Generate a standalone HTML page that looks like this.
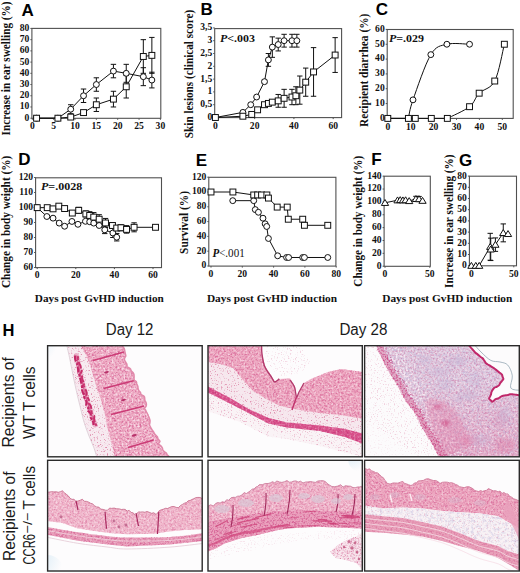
<!DOCTYPE html><html><head><meta charset="utf-8"><style>
html,body{margin:0;padding:0;background:#fff;width:520px;height:573px;overflow:hidden}
svg{display:block}
.tk{font-family:"Liberation Serif", serif;font-weight:bold;font-size:9.6px;fill:#111}
.yl{font-family:"Liberation Serif", serif;font-weight:bold;fill:#111}
.pl{font-family:"Liberation Sans", sans-serif;font-weight:bold;fill:#000}
.pv{font-family:"Liberation Serif", serif;font-weight:bold;fill:#111}
.hl{font-family:"Liberation Sans", sans-serif;fill:#1a1a1a}
</style></head><body>
<svg width="520" height="573" viewBox="0 0 520 573">
<rect width="520" height="573" fill="#fff"/>
<rect x="31.9" y="28.4" width="128.9" height="89.9" fill="none" stroke="#505050" stroke-width="1.1"/>
<line x1="30.4" y1="118.2" x2="31.9" y2="118.2" stroke="#505050" stroke-width="1"/>
<text x="29.4" y="120.6" text-anchor="end" class="tk">0</text>
<line x1="30.4" y1="106.98" x2="31.9" y2="106.98" stroke="#505050" stroke-width="1"/>
<text x="29.4" y="109.38" text-anchor="end" class="tk">10</text>
<line x1="30.4" y1="95.76" x2="31.9" y2="95.76" stroke="#505050" stroke-width="1"/>
<text x="29.4" y="98.16" text-anchor="end" class="tk">20</text>
<line x1="30.4" y1="84.54" x2="31.9" y2="84.54" stroke="#505050" stroke-width="1"/>
<text x="29.4" y="86.94" text-anchor="end" class="tk">30</text>
<line x1="30.4" y1="73.32" x2="31.9" y2="73.32" stroke="#505050" stroke-width="1"/>
<text x="29.4" y="75.72" text-anchor="end" class="tk">40</text>
<line x1="30.4" y1="62.1" x2="31.9" y2="62.1" stroke="#505050" stroke-width="1"/>
<text x="29.4" y="64.5" text-anchor="end" class="tk">50</text>
<line x1="30.4" y1="50.88" x2="31.9" y2="50.88" stroke="#505050" stroke-width="1"/>
<text x="29.4" y="53.28" text-anchor="end" class="tk">60</text>
<line x1="30.4" y1="39.66" x2="31.9" y2="39.66" stroke="#505050" stroke-width="1"/>
<text x="29.4" y="42.06" text-anchor="end" class="tk">70</text>
<line x1="30.4" y1="28.44" x2="31.9" y2="28.44" stroke="#505050" stroke-width="1"/>
<text x="29.4" y="30.84" text-anchor="end" class="tk">80</text>
<line x1="32.3" y1="118.3" x2="32.3" y2="119.8" stroke="#505050" stroke-width="1"/>
<text x="32.3" y="129.3" text-anchor="middle" class="tk">0</text>
<line x1="53.65" y1="118.3" x2="53.65" y2="119.8" stroke="#505050" stroke-width="1"/>
<text x="53.65" y="129.3" text-anchor="middle" class="tk">5</text>
<line x1="75" y1="118.3" x2="75" y2="119.8" stroke="#505050" stroke-width="1"/>
<text x="75" y="129.3" text-anchor="middle" class="tk">10</text>
<line x1="96.35" y1="118.3" x2="96.35" y2="119.8" stroke="#505050" stroke-width="1"/>
<text x="96.35" y="129.3" text-anchor="middle" class="tk">15</text>
<line x1="117.7" y1="118.3" x2="117.7" y2="119.8" stroke="#505050" stroke-width="1"/>
<text x="117.7" y="129.3" text-anchor="middle" class="tk">20</text>
<line x1="139.05" y1="118.3" x2="139.05" y2="119.8" stroke="#505050" stroke-width="1"/>
<text x="139.05" y="129.3" text-anchor="middle" class="tk">25</text>
<line x1="160.4" y1="118.3" x2="160.4" y2="119.8" stroke="#505050" stroke-width="1"/>
<text x="160.4" y="129.3" text-anchor="middle" class="tk">30</text>
<path d="M36.57,118.2 L57.92,118.2 L70.73,109.22 L83.54,95.76 L96.35,84.54 L113.43,71.08 L126.24,73.32 L143.32,76.69 L151.86,80.05" fill="none" stroke="#111" stroke-width="1"/>
<path d="M36.57,118.2 L57.92,118.2 L70.73,117.08 L83.54,112.59 L96.35,104.74 L113.43,99.13 L126.24,86.78 L143.32,56.49 L151.86,55.37" fill="none" stroke="#111" stroke-width="1"/>
<path d="M70.73,104.74 V113.71 M68.03,104.74 H73.43 M68.03,113.71 H73.43" stroke="#111" stroke-width="1" fill="none"/>
<path d="M83.54,89.03 V102.49 M80.84,89.03 H86.24 M80.84,102.49 H86.24" stroke="#111" stroke-width="1" fill="none"/>
<path d="M96.35,77.81 V91.27 M93.65,77.81 H99.05 M93.65,91.27 H99.05" stroke="#111" stroke-width="1" fill="none"/>
<path d="M113.43,64.34 V77.81 M110.73,64.34 H116.13 M110.73,77.81 H116.13" stroke="#111" stroke-width="1" fill="none"/>
<path d="M126.24,64.34 V82.3 M123.54,64.34 H128.94 M123.54,82.3 H128.94" stroke="#111" stroke-width="1" fill="none"/>
<path d="M143.32,67.71 V85.66 M140.62,67.71 H146.02 M140.62,85.66 H146.02" stroke="#111" stroke-width="1" fill="none"/>
<path d="M151.86,72.2 V87.91 M149.16,72.2 H154.56 M149.16,87.91 H154.56" stroke="#111" stroke-width="1" fill="none"/>
<path d="M70.73,114.83 V119.32 M68.03,114.83 H73.43 M68.03,119.32 H73.43" stroke="#111" stroke-width="1" fill="none"/>
<path d="M83.54,110.35 V114.83 M80.84,110.35 H86.24 M80.84,114.83 H86.24" stroke="#111" stroke-width="1" fill="none"/>
<path d="M96.35,98 V111.47 M93.65,98 H99.05 M93.65,111.47 H99.05" stroke="#111" stroke-width="1" fill="none"/>
<path d="M113.43,91.27 V106.98 M110.73,91.27 H116.13 M110.73,106.98 H116.13" stroke="#111" stroke-width="1" fill="none"/>
<path d="M126.24,75.56 V98 M123.54,75.56 H128.94 M123.54,98 H128.94" stroke="#111" stroke-width="1" fill="none"/>
<path d="M143.32,39.66 V73.32 M140.62,39.66 H146.02 M140.62,73.32 H146.02" stroke="#111" stroke-width="1" fill="none"/>
<path d="M151.86,37.42 V73.32 M149.16,37.42 H154.56 M149.16,73.32 H154.56" stroke="#111" stroke-width="1" fill="none"/>
<circle cx="36.57" cy="118.2" r="2.95" fill="#fff" stroke="#111" stroke-width="1"/>
<circle cx="57.92" cy="118.2" r="2.95" fill="#fff" stroke="#111" stroke-width="1"/>
<circle cx="70.73" cy="109.22" r="2.95" fill="#fff" stroke="#111" stroke-width="1"/>
<circle cx="83.54" cy="95.76" r="2.95" fill="#fff" stroke="#111" stroke-width="1"/>
<circle cx="96.35" cy="84.54" r="2.95" fill="#fff" stroke="#111" stroke-width="1"/>
<circle cx="113.43" cy="71.08" r="2.95" fill="#fff" stroke="#111" stroke-width="1"/>
<circle cx="126.24" cy="73.32" r="2.95" fill="#fff" stroke="#111" stroke-width="1"/>
<circle cx="143.32" cy="76.69" r="2.95" fill="#fff" stroke="#111" stroke-width="1"/>
<circle cx="151.86" cy="80.05" r="2.95" fill="#fff" stroke="#111" stroke-width="1"/>
<rect x="33.62" y="115.25" width="5.9" height="5.9" fill="#fff" stroke="#111" stroke-width="1"/>
<rect x="54.97" y="115.25" width="5.9" height="5.9" fill="#fff" stroke="#111" stroke-width="1"/>
<rect x="67.78" y="114.13" width="5.9" height="5.9" fill="#fff" stroke="#111" stroke-width="1"/>
<rect x="80.59" y="109.64" width="5.9" height="5.9" fill="#fff" stroke="#111" stroke-width="1"/>
<rect x="93.4" y="101.79" width="5.9" height="5.9" fill="#fff" stroke="#111" stroke-width="1"/>
<rect x="110.48" y="96.18" width="5.9" height="5.9" fill="#fff" stroke="#111" stroke-width="1"/>
<rect x="123.29" y="83.83" width="5.9" height="5.9" fill="#fff" stroke="#111" stroke-width="1"/>
<rect x="140.37" y="53.54" width="5.9" height="5.9" fill="#fff" stroke="#111" stroke-width="1"/>
<rect x="148.91" y="52.42" width="5.9" height="5.9" fill="#fff" stroke="#111" stroke-width="1"/>
<text x="21.5" y="15.5" class="pl" style="font-size:17px">A</text>
<text transform="translate(10,68.4) rotate(-90)" text-anchor="middle" class="yl" style="font-size:12px" textLength="134" lengthAdjust="spacingAndGlyphs">Increase in ear swelling (%)</text>
<rect x="214.7" y="28.6" width="126.9" height="89" fill="none" stroke="#505050" stroke-width="1.1"/>
<line x1="213.2" y1="117.5" x2="214.7" y2="117.5" stroke="#505050" stroke-width="1"/>
<text x="212.2" y="119.9" text-anchor="end" class="tk">0</text>
<line x1="213.2" y1="104.7" x2="214.7" y2="104.7" stroke="#505050" stroke-width="1"/>
<text x="212.2" y="107.1" text-anchor="end" class="tk">0,5</text>
<line x1="213.2" y1="91.9" x2="214.7" y2="91.9" stroke="#505050" stroke-width="1"/>
<text x="212.2" y="94.3" text-anchor="end" class="tk">1</text>
<line x1="213.2" y1="79.1" x2="214.7" y2="79.1" stroke="#505050" stroke-width="1"/>
<text x="212.2" y="81.5" text-anchor="end" class="tk">1,5</text>
<line x1="213.2" y1="66.3" x2="214.7" y2="66.3" stroke="#505050" stroke-width="1"/>
<text x="212.2" y="68.7" text-anchor="end" class="tk">2</text>
<line x1="213.2" y1="53.5" x2="214.7" y2="53.5" stroke="#505050" stroke-width="1"/>
<text x="212.2" y="55.9" text-anchor="end" class="tk">2,5</text>
<line x1="213.2" y1="40.7" x2="214.7" y2="40.7" stroke="#505050" stroke-width="1"/>
<text x="212.2" y="43.1" text-anchor="end" class="tk">3</text>
<line x1="213.2" y1="27.9" x2="214.7" y2="27.9" stroke="#505050" stroke-width="1"/>
<text x="212.2" y="30.3" text-anchor="end" class="tk">3,5</text>
<line x1="215.4" y1="117.6" x2="215.4" y2="119.1" stroke="#505050" stroke-width="1"/>
<text x="215.4" y="128.8" text-anchor="middle" class="tk">0</text>
<line x1="254.66" y1="117.6" x2="254.66" y2="119.1" stroke="#505050" stroke-width="1"/>
<text x="254.66" y="128.8" text-anchor="middle" class="tk">20</text>
<line x1="293.92" y1="117.6" x2="293.92" y2="119.1" stroke="#505050" stroke-width="1"/>
<text x="293.92" y="128.8" text-anchor="middle" class="tk">40</text>
<line x1="333.18" y1="117.6" x2="333.18" y2="119.1" stroke="#505050" stroke-width="1"/>
<text x="333.18" y="128.8" text-anchor="middle" class="tk">60</text>
<path d="M215.4,117.5 L242.88,112.38 L250.73,104.7 L256.62,97.02 L264.48,81.66 L268.4,59.9 L272.33,47.1 L278.22,44.54 L284.11,40.7 L291.96,40.7 L296.86,40.7" fill="none" stroke="#111" stroke-width="1"/>
<path d="M215.4,117.5 L242.88,116.22 L251.72,114.43 L257.6,109.82 L264.48,104.7 L268.4,103.42 L272.33,102.14 L278.22,100.86 L284.11,98.3 L291.96,97.02 L295.88,95.74 L299.81,90.11 L305.7,82.17 L313.55,71.93 L335.14,55.04" fill="none" stroke="#111" stroke-width="1"/>
<path d="M264.48,80.12 V83.2 M261.78,80.12 H267.18 M261.78,83.2 H267.18" stroke="#111" stroke-width="1" fill="none"/>
<path d="M268.4,53.5 V66.3 M265.7,53.5 H271.1 M265.7,66.3 H271.1" stroke="#111" stroke-width="1" fill="none"/>
<path d="M272.33,36.86 V57.34 M269.63,36.86 H275.03 M269.63,57.34 H275.03" stroke="#111" stroke-width="1" fill="none"/>
<path d="M278.22,38.14 V50.94 M275.52,38.14 H280.92 M275.52,50.94 H280.92" stroke="#111" stroke-width="1" fill="none"/>
<path d="M284.11,34.3 V47.1 M281.41,34.3 H286.81 M281.41,47.1 H286.81" stroke="#111" stroke-width="1" fill="none"/>
<path d="M291.96,34.3 V47.1 M289.26,34.3 H294.66 M289.26,47.1 H294.66" stroke="#111" stroke-width="1" fill="none"/>
<path d="M296.86,34.3 V47.1 M294.16,34.3 H299.56 M294.16,47.1 H299.56" stroke="#111" stroke-width="1" fill="none"/>
<path d="M278.22,94.46 V107.26 M275.52,94.46 H280.92 M275.52,107.26 H280.92" stroke="#111" stroke-width="1" fill="none"/>
<path d="M284.11,89.34 V107.26 M281.41,89.34 H286.81 M281.41,107.26 H286.81" stroke="#111" stroke-width="1" fill="none"/>
<path d="M291.96,89.34 V104.7 M289.26,89.34 H294.66 M289.26,104.7 H294.66" stroke="#111" stroke-width="1" fill="none"/>
<path d="M295.88,86.78 V104.7 M293.18,86.78 H298.58 M293.18,104.7 H298.58" stroke="#111" stroke-width="1" fill="none"/>
<path d="M299.81,76.03 V104.19 M297.11,76.03 H302.51 M297.11,104.19 H302.51" stroke="#111" stroke-width="1" fill="none"/>
<path d="M305.7,68.09 V96.25 M303,68.09 H308.4 M303,96.25 H308.4" stroke="#111" stroke-width="1" fill="none"/>
<path d="M313.55,47.61 V96.25 M310.85,47.61 H316.25 M310.85,96.25 H316.25" stroke="#111" stroke-width="1" fill="none"/>
<path d="M335.14,37.63 V72.44 M332.44,37.63 H337.84 M332.44,72.44 H337.84" stroke="#111" stroke-width="1" fill="none"/>
<circle cx="215.4" cy="117.5" r="2.95" fill="#fff" stroke="#111" stroke-width="1"/>
<circle cx="242.88" cy="112.38" r="2.95" fill="#fff" stroke="#111" stroke-width="1"/>
<circle cx="250.73" cy="104.7" r="2.95" fill="#fff" stroke="#111" stroke-width="1"/>
<circle cx="256.62" cy="97.02" r="2.95" fill="#fff" stroke="#111" stroke-width="1"/>
<circle cx="264.48" cy="81.66" r="2.95" fill="#fff" stroke="#111" stroke-width="1"/>
<circle cx="268.4" cy="59.9" r="2.95" fill="#fff" stroke="#111" stroke-width="1"/>
<circle cx="272.33" cy="47.1" r="2.95" fill="#fff" stroke="#111" stroke-width="1"/>
<circle cx="278.22" cy="44.54" r="2.95" fill="#fff" stroke="#111" stroke-width="1"/>
<circle cx="284.11" cy="40.7" r="2.95" fill="#fff" stroke="#111" stroke-width="1"/>
<circle cx="291.96" cy="40.7" r="2.95" fill="#fff" stroke="#111" stroke-width="1"/>
<circle cx="296.86" cy="40.7" r="2.95" fill="#fff" stroke="#111" stroke-width="1"/>
<rect x="212.45" y="114.55" width="5.9" height="5.9" fill="#fff" stroke="#111" stroke-width="1"/>
<rect x="239.93" y="113.27" width="5.9" height="5.9" fill="#fff" stroke="#111" stroke-width="1"/>
<rect x="248.77" y="111.48" width="5.9" height="5.9" fill="#fff" stroke="#111" stroke-width="1"/>
<rect x="254.65" y="106.87" width="5.9" height="5.9" fill="#fff" stroke="#111" stroke-width="1"/>
<rect x="261.53" y="101.75" width="5.9" height="5.9" fill="#fff" stroke="#111" stroke-width="1"/>
<rect x="265.45" y="100.47" width="5.9" height="5.9" fill="#fff" stroke="#111" stroke-width="1"/>
<rect x="269.38" y="99.19" width="5.9" height="5.9" fill="#fff" stroke="#111" stroke-width="1"/>
<rect x="275.27" y="97.91" width="5.9" height="5.9" fill="#fff" stroke="#111" stroke-width="1"/>
<rect x="281.16" y="95.35" width="5.9" height="5.9" fill="#fff" stroke="#111" stroke-width="1"/>
<rect x="289.01" y="94.07" width="5.9" height="5.9" fill="#fff" stroke="#111" stroke-width="1"/>
<rect x="292.93" y="92.79" width="5.9" height="5.9" fill="#fff" stroke="#111" stroke-width="1"/>
<rect x="296.86" y="87.16" width="5.9" height="5.9" fill="#fff" stroke="#111" stroke-width="1"/>
<rect x="302.75" y="79.22" width="5.9" height="5.9" fill="#fff" stroke="#111" stroke-width="1"/>
<rect x="310.6" y="68.98" width="5.9" height="5.9" fill="#fff" stroke="#111" stroke-width="1"/>
<rect x="332.19" y="52.09" width="5.9" height="5.9" fill="#fff" stroke="#111" stroke-width="1"/>
<text x="200.5" y="15.2" class="pl" style="font-size:17px">B</text>
<text transform="translate(193,74) rotate(-90)" text-anchor="middle" class="yl" style="font-size:12px" textLength="128.3" lengthAdjust="spacingAndGlyphs">Skin lesions (clinical score)</text>
<text x="220" y="41.5" class="pv" style="font-size:10.8px" textLength="35" lengthAdjust="spacingAndGlyphs"><tspan font-style="italic">P</tspan>&lt;.003</text>
<rect x="387.2" y="29.5" width="126" height="88.9" fill="none" stroke="#505050" stroke-width="1.1"/>
<line x1="385.7" y1="118.4" x2="387.2" y2="118.4" stroke="#505050" stroke-width="1"/>
<text x="384.7" y="120.8" text-anchor="end" class="tk">0</text>
<line x1="385.7" y1="103.57" x2="387.2" y2="103.57" stroke="#505050" stroke-width="1"/>
<text x="384.7" y="105.97" text-anchor="end" class="tk">10</text>
<line x1="385.7" y1="88.74" x2="387.2" y2="88.74" stroke="#505050" stroke-width="1"/>
<text x="384.7" y="91.14" text-anchor="end" class="tk">20</text>
<line x1="385.7" y1="73.91" x2="387.2" y2="73.91" stroke="#505050" stroke-width="1"/>
<text x="384.7" y="76.31" text-anchor="end" class="tk">30</text>
<line x1="385.7" y1="59.08" x2="387.2" y2="59.08" stroke="#505050" stroke-width="1"/>
<text x="384.7" y="61.48" text-anchor="end" class="tk">40</text>
<line x1="385.7" y1="44.25" x2="387.2" y2="44.25" stroke="#505050" stroke-width="1"/>
<text x="384.7" y="46.65" text-anchor="end" class="tk">50</text>
<line x1="385.7" y1="29.42" x2="387.2" y2="29.42" stroke="#505050" stroke-width="1"/>
<text x="384.7" y="31.82" text-anchor="end" class="tk">60</text>
<line x1="387.8" y1="118.4" x2="387.8" y2="119.9" stroke="#505050" stroke-width="1"/>
<text x="387.8" y="129.5" text-anchor="middle" class="tk">0</text>
<line x1="410.7" y1="118.4" x2="410.7" y2="119.9" stroke="#505050" stroke-width="1"/>
<text x="410.7" y="129.5" text-anchor="middle" class="tk">10</text>
<line x1="433.6" y1="118.4" x2="433.6" y2="119.9" stroke="#505050" stroke-width="1"/>
<text x="433.6" y="129.5" text-anchor="middle" class="tk">20</text>
<line x1="456.5" y1="118.4" x2="456.5" y2="119.9" stroke="#505050" stroke-width="1"/>
<text x="456.5" y="129.5" text-anchor="middle" class="tk">30</text>
<line x1="479.4" y1="118.4" x2="479.4" y2="119.9" stroke="#505050" stroke-width="1"/>
<text x="479.4" y="129.5" text-anchor="middle" class="tk">40</text>
<line x1="502.3" y1="118.4" x2="502.3" y2="119.9" stroke="#505050" stroke-width="1"/>
<text x="502.3" y="129.5" text-anchor="middle" class="tk">50</text>
<path d="M387.8,118.4 L408.41,118.4" fill="none" stroke="#111" stroke-width="1"/>
<path d="M408.41,118.4 C409.17,115.31 409.25,110.49 412.99,99.86 C416.73,89.23 425.2,63.9 430.85,54.63 C436.5,45.36 440.43,45.98 446.88,44.25 C453.33,42.52 465.77,44.25 469.55,44.25" fill="none" stroke="#111" stroke-width="1"/>
<path d="M387.8,118.4 L447.34,118.4" fill="none" stroke="#111" stroke-width="1"/>
<path d="M447.34,118.4 C451.04,116.45 464.25,110.89 469.55,106.68 C474.86,102.48 474.97,97.46 479.17,93.19 C483.37,88.91 490.54,89.18 494.74,81.03 C498.94,72.87 502.76,50.38 504.36,44.25" fill="none" stroke="#111" stroke-width="1"/>
<circle cx="387.8" cy="118.4" r="2.95" fill="#fff" stroke="#111" stroke-width="1"/>
<circle cx="408.41" cy="118.4" r="2.95" fill="#fff" stroke="#111" stroke-width="1"/>
<circle cx="412.99" cy="99.86" r="2.95" fill="#fff" stroke="#111" stroke-width="1"/>
<circle cx="430.85" cy="54.63" r="2.95" fill="#fff" stroke="#111" stroke-width="1"/>
<circle cx="446.88" cy="44.25" r="2.95" fill="#fff" stroke="#111" stroke-width="1"/>
<circle cx="469.55" cy="44.25" r="2.95" fill="#fff" stroke="#111" stroke-width="1"/>
<rect x="384.85" y="115.45" width="5.9" height="5.9" fill="#fff" stroke="#111" stroke-width="1"/>
<rect x="405.46" y="115.45" width="5.9" height="5.9" fill="#fff" stroke="#111" stroke-width="1"/>
<rect x="412.33" y="115.45" width="5.9" height="5.9" fill="#fff" stroke="#111" stroke-width="1"/>
<rect x="428.36" y="115.45" width="5.9" height="5.9" fill="#fff" stroke="#111" stroke-width="1"/>
<rect x="444.39" y="115.45" width="5.9" height="5.9" fill="#fff" stroke="#111" stroke-width="1"/>
<rect x="466.6" y="103.73" width="5.9" height="5.9" fill="#fff" stroke="#111" stroke-width="1"/>
<rect x="476.22" y="90.24" width="5.9" height="5.9" fill="#fff" stroke="#111" stroke-width="1"/>
<rect x="491.79" y="78.08" width="5.9" height="5.9" fill="#fff" stroke="#111" stroke-width="1"/>
<rect x="501.41" y="41.3" width="5.9" height="5.9" fill="#fff" stroke="#111" stroke-width="1"/>
<text x="375.8" y="15.2" class="pl" style="font-size:17px">C</text>
<text transform="translate(368,70.3) rotate(-90)" text-anchor="middle" class="yl" style="font-size:12px" textLength="113.4" lengthAdjust="spacingAndGlyphs">Recipient diarrhea (%)</text>
<text x="389" y="41.5" class="pv" style="font-size:10.8px" textLength="35" lengthAdjust="spacingAndGlyphs"><tspan font-style="italic">P</tspan>=.029</text>
<rect x="35.6" y="177.8" width="125.9" height="89.8" fill="none" stroke="#505050" stroke-width="1.1"/>
<line x1="34.1" y1="267.5" x2="35.6" y2="267.5" stroke="#505050" stroke-width="1"/>
<text x="33.1" y="269.9" text-anchor="end" class="tk">60</text>
<line x1="34.1" y1="252.5" x2="35.6" y2="252.5" stroke="#505050" stroke-width="1"/>
<text x="33.1" y="254.9" text-anchor="end" class="tk">70</text>
<line x1="34.1" y1="237.5" x2="35.6" y2="237.5" stroke="#505050" stroke-width="1"/>
<text x="33.1" y="239.9" text-anchor="end" class="tk">80</text>
<line x1="34.1" y1="222.5" x2="35.6" y2="222.5" stroke="#505050" stroke-width="1"/>
<text x="33.1" y="224.9" text-anchor="end" class="tk">90</text>
<line x1="34.1" y1="207.5" x2="35.6" y2="207.5" stroke="#505050" stroke-width="1"/>
<text x="33.1" y="209.9" text-anchor="end" class="tk">100</text>
<line x1="34.1" y1="192.5" x2="35.6" y2="192.5" stroke="#505050" stroke-width="1"/>
<text x="33.1" y="194.9" text-anchor="end" class="tk">110</text>
<line x1="34.1" y1="177.5" x2="35.6" y2="177.5" stroke="#505050" stroke-width="1"/>
<text x="33.1" y="179.9" text-anchor="end" class="tk">120</text>
<line x1="37.2" y1="267.6" x2="37.2" y2="269.1" stroke="#505050" stroke-width="1"/>
<text x="37.2" y="278.3" text-anchor="middle" class="tk">0</text>
<line x1="75.8" y1="267.6" x2="75.8" y2="269.1" stroke="#505050" stroke-width="1"/>
<text x="75.8" y="278.3" text-anchor="middle" class="tk">20</text>
<line x1="114.4" y1="267.6" x2="114.4" y2="269.1" stroke="#505050" stroke-width="1"/>
<text x="114.4" y="278.3" text-anchor="middle" class="tk">40</text>
<line x1="153" y1="267.6" x2="153" y2="269.1" stroke="#505050" stroke-width="1"/>
<text x="153" y="278.3" text-anchor="middle" class="tk">60</text>
<path d="M37.2,207.5 L46.85,216.5 L53.03,218.15 L59.2,223.1 L64.61,226.25 L71.94,221.45 L77.92,224.3 L85.45,221.3 L89.7,221.75 L93.75,223.1 L99.15,225.5 L104.75,229.85 L112.86,233 L116.72,237.2" fill="none" stroke="#111" stroke-width="1"/>
<path d="M37.2,207.65 L47.24,207.65 L53.03,208.85 L58.82,206.15 L64.61,208.55 L72.33,213.05 L78.69,210.35 L85.84,213.95 L89.7,215.45 L93.75,217.1 L99.15,219.2 L105.52,222.95 L112.47,225.5 L116.72,228.05 L120.96,227.75 L126.56,229.4 L134.09,227.3 L155.51,227.3" fill="none" stroke="#111" stroke-width="1"/>
<path d="M104.75,226.1 V233.6 M102.05,226.1 H107.45 M102.05,233.6 H107.45" stroke="#111" stroke-width="1" fill="none"/>
<path d="M112.86,228.5 V237.5 M110.16,228.5 H115.56 M110.16,237.5 H115.56" stroke="#111" stroke-width="1" fill="none"/>
<path d="M116.72,233.45 V240.95 M114.02,233.45 H119.42 M114.02,240.95 H119.42" stroke="#111" stroke-width="1" fill="none"/>
<path d="M78.69,207.35 V213.35 M75.99,207.35 H81.39 M75.99,213.35 H81.39" stroke="#111" stroke-width="1" fill="none"/>
<path d="M85.84,210.95 V216.95 M83.14,210.95 H88.54 M83.14,216.95 H88.54" stroke="#111" stroke-width="1" fill="none"/>
<path d="M89.7,211.7 V219.2 M87,211.7 H92.4 M87,219.2 H92.4" stroke="#111" stroke-width="1" fill="none"/>
<path d="M93.75,212.6 V221.6 M91.05,212.6 H96.45 M91.05,221.6 H96.45" stroke="#111" stroke-width="1" fill="none"/>
<path d="M99.15,214.7 V223.7 M96.45,214.7 H101.85 M96.45,223.7 H101.85" stroke="#111" stroke-width="1" fill="none"/>
<path d="M105.52,218.45 V227.45 M102.82,218.45 H108.22 M102.82,227.45 H108.22" stroke="#111" stroke-width="1" fill="none"/>
<path d="M112.47,222.5 V228.5 M109.77,222.5 H115.17 M109.77,228.5 H115.17" stroke="#111" stroke-width="1" fill="none"/>
<path d="M120.96,224.75 V230.75 M118.26,224.75 H123.66 M118.26,230.75 H123.66" stroke="#111" stroke-width="1" fill="none"/>
<path d="M126.56,225.65 V233.15 M123.86,225.65 H129.26 M123.86,233.15 H129.26" stroke="#111" stroke-width="1" fill="none"/>
<path d="M134.09,222.8 V231.8 M131.39,222.8 H136.79 M131.39,231.8 H136.79" stroke="#111" stroke-width="1" fill="none"/>
<circle cx="37.2" cy="207.5" r="2.95" fill="#fff" stroke="#111" stroke-width="1"/>
<circle cx="46.85" cy="216.5" r="2.95" fill="#fff" stroke="#111" stroke-width="1"/>
<circle cx="53.03" cy="218.15" r="2.95" fill="#fff" stroke="#111" stroke-width="1"/>
<circle cx="59.2" cy="223.1" r="2.95" fill="#fff" stroke="#111" stroke-width="1"/>
<circle cx="64.61" cy="226.25" r="2.95" fill="#fff" stroke="#111" stroke-width="1"/>
<circle cx="71.94" cy="221.45" r="2.95" fill="#fff" stroke="#111" stroke-width="1"/>
<circle cx="77.92" cy="224.3" r="2.95" fill="#fff" stroke="#111" stroke-width="1"/>
<circle cx="85.45" cy="221.3" r="2.95" fill="#fff" stroke="#111" stroke-width="1"/>
<circle cx="89.7" cy="221.75" r="2.95" fill="#fff" stroke="#111" stroke-width="1"/>
<circle cx="93.75" cy="223.1" r="2.95" fill="#fff" stroke="#111" stroke-width="1"/>
<circle cx="99.15" cy="225.5" r="2.95" fill="#fff" stroke="#111" stroke-width="1"/>
<circle cx="104.75" cy="229.85" r="2.95" fill="#fff" stroke="#111" stroke-width="1"/>
<circle cx="112.86" cy="233" r="2.95" fill="#fff" stroke="#111" stroke-width="1"/>
<circle cx="116.72" cy="237.2" r="2.95" fill="#fff" stroke="#111" stroke-width="1"/>
<rect x="34.25" y="204.7" width="5.9" height="5.9" fill="#fff" stroke="#111" stroke-width="1"/>
<rect x="44.29" y="204.7" width="5.9" height="5.9" fill="#fff" stroke="#111" stroke-width="1"/>
<rect x="50.08" y="205.9" width="5.9" height="5.9" fill="#fff" stroke="#111" stroke-width="1"/>
<rect x="55.87" y="203.2" width="5.9" height="5.9" fill="#fff" stroke="#111" stroke-width="1"/>
<rect x="61.66" y="205.6" width="5.9" height="5.9" fill="#fff" stroke="#111" stroke-width="1"/>
<rect x="69.38" y="210.1" width="5.9" height="5.9" fill="#fff" stroke="#111" stroke-width="1"/>
<rect x="75.74" y="207.4" width="5.9" height="5.9" fill="#fff" stroke="#111" stroke-width="1"/>
<rect x="82.89" y="211" width="5.9" height="5.9" fill="#fff" stroke="#111" stroke-width="1"/>
<rect x="86.75" y="212.5" width="5.9" height="5.9" fill="#fff" stroke="#111" stroke-width="1"/>
<rect x="90.8" y="214.15" width="5.9" height="5.9" fill="#fff" stroke="#111" stroke-width="1"/>
<rect x="96.2" y="216.25" width="5.9" height="5.9" fill="#fff" stroke="#111" stroke-width="1"/>
<rect x="102.57" y="220" width="5.9" height="5.9" fill="#fff" stroke="#111" stroke-width="1"/>
<rect x="109.52" y="222.55" width="5.9" height="5.9" fill="#fff" stroke="#111" stroke-width="1"/>
<rect x="113.77" y="225.1" width="5.9" height="5.9" fill="#fff" stroke="#111" stroke-width="1"/>
<rect x="118.01" y="224.8" width="5.9" height="5.9" fill="#fff" stroke="#111" stroke-width="1"/>
<rect x="123.61" y="226.45" width="5.9" height="5.9" fill="#fff" stroke="#111" stroke-width="1"/>
<rect x="131.14" y="224.35" width="5.9" height="5.9" fill="#fff" stroke="#111" stroke-width="1"/>
<rect x="152.56" y="224.35" width="5.9" height="5.9" fill="#fff" stroke="#111" stroke-width="1"/>
<text x="18.2" y="164.8" class="pl" style="font-size:17px">D</text>
<text transform="translate(10,221.9) rotate(-90)" text-anchor="middle" class="yl" style="font-size:12px" textLength="132.3" lengthAdjust="spacingAndGlyphs">Change in body weight (%)</text>
<text x="41" y="189.8" class="pv" style="font-size:10.8px" textLength="41.3" lengthAdjust="spacingAndGlyphs"><tspan font-style="italic">P</tspan>=.0028</text>
<rect x="208.8" y="177.3" width="127.1" height="88.8" fill="none" stroke="#505050" stroke-width="1.1"/>
<line x1="207.3" y1="266" x2="208.8" y2="266" stroke="#505050" stroke-width="1"/>
<text x="206.3" y="268.4" text-anchor="end" class="tk">0</text>
<line x1="207.3" y1="251.2" x2="208.8" y2="251.2" stroke="#505050" stroke-width="1"/>
<text x="206.3" y="253.6" text-anchor="end" class="tk">20</text>
<line x1="207.3" y1="236.4" x2="208.8" y2="236.4" stroke="#505050" stroke-width="1"/>
<text x="206.3" y="238.8" text-anchor="end" class="tk">40</text>
<line x1="207.3" y1="221.6" x2="208.8" y2="221.6" stroke="#505050" stroke-width="1"/>
<text x="206.3" y="224" text-anchor="end" class="tk">60</text>
<line x1="207.3" y1="206.8" x2="208.8" y2="206.8" stroke="#505050" stroke-width="1"/>
<text x="206.3" y="209.2" text-anchor="end" class="tk">80</text>
<line x1="207.3" y1="192" x2="208.8" y2="192" stroke="#505050" stroke-width="1"/>
<text x="206.3" y="194.4" text-anchor="end" class="tk">100</text>
<line x1="207.3" y1="177.2" x2="208.8" y2="177.2" stroke="#505050" stroke-width="1"/>
<text x="206.3" y="179.6" text-anchor="end" class="tk">120</text>
<line x1="211" y1="266.1" x2="211" y2="267.6" stroke="#505050" stroke-width="1"/>
<text x="211" y="277" text-anchor="middle" class="tk">0</text>
<line x1="242.3" y1="266.1" x2="242.3" y2="267.6" stroke="#505050" stroke-width="1"/>
<text x="242.3" y="277" text-anchor="middle" class="tk">20</text>
<line x1="273.6" y1="266.1" x2="273.6" y2="267.6" stroke="#505050" stroke-width="1"/>
<text x="273.6" y="277" text-anchor="middle" class="tk">40</text>
<line x1="304.9" y1="266.1" x2="304.9" y2="267.6" stroke="#505050" stroke-width="1"/>
<text x="304.9" y="277" text-anchor="middle" class="tk">60</text>
<line x1="336.2" y1="266.1" x2="336.2" y2="267.6" stroke="#505050" stroke-width="1"/>
<text x="336.2" y="277" text-anchor="middle" class="tk">80</text>
<path d="M211,192 L232.91,192 L253.72,194.96 L257.64,194.96 L261.55,194.96 L266.87,194.96 L268.44,198.07 L277.2,207.1 L287.22,207.1 L288.31,219.23 L302.71,219.23 L304.43,225.3 L327.75,225.3" fill="none" stroke="#111" stroke-width="1"/>
<path d="M232.75,200.66 L253.72,200.66 L255.29,209.61 L258.42,212.28 L262.96,218.2 L265.15,223.82 L266.71,226.48 L268.44,238.47 L277.67,255.79 L286.59,257.49 L288.62,257.49 L302.71,257.49 L304.43,257.49 L327.75,257.49" fill="none" stroke="#111" stroke-width="1"/>
<circle cx="232.75" cy="200.66" r="2.95" fill="#fff" stroke="#111" stroke-width="1"/>
<circle cx="253.72" cy="200.66" r="2.95" fill="#fff" stroke="#111" stroke-width="1"/>
<circle cx="255.29" cy="209.61" r="2.95" fill="#fff" stroke="#111" stroke-width="1"/>
<circle cx="258.42" cy="212.28" r="2.95" fill="#fff" stroke="#111" stroke-width="1"/>
<circle cx="262.96" cy="218.2" r="2.95" fill="#fff" stroke="#111" stroke-width="1"/>
<circle cx="265.15" cy="223.82" r="2.95" fill="#fff" stroke="#111" stroke-width="1"/>
<circle cx="266.71" cy="226.48" r="2.95" fill="#fff" stroke="#111" stroke-width="1"/>
<circle cx="268.44" cy="238.47" r="2.95" fill="#fff" stroke="#111" stroke-width="1"/>
<circle cx="277.67" cy="255.79" r="2.95" fill="#fff" stroke="#111" stroke-width="1"/>
<circle cx="286.59" cy="257.49" r="2.95" fill="#fff" stroke="#111" stroke-width="1"/>
<circle cx="288.62" cy="257.49" r="2.95" fill="#fff" stroke="#111" stroke-width="1"/>
<circle cx="302.71" cy="257.49" r="2.95" fill="#fff" stroke="#111" stroke-width="1"/>
<circle cx="304.43" cy="257.49" r="2.95" fill="#fff" stroke="#111" stroke-width="1"/>
<circle cx="327.75" cy="257.49" r="2.95" fill="#fff" stroke="#111" stroke-width="1"/>
<rect x="208.05" y="189.05" width="5.9" height="5.9" fill="#fff" stroke="#111" stroke-width="1"/>
<rect x="229.96" y="189.05" width="5.9" height="5.9" fill="#fff" stroke="#111" stroke-width="1"/>
<rect x="250.77" y="192.01" width="5.9" height="5.9" fill="#fff" stroke="#111" stroke-width="1"/>
<rect x="254.69" y="192.01" width="5.9" height="5.9" fill="#fff" stroke="#111" stroke-width="1"/>
<rect x="258.6" y="192.01" width="5.9" height="5.9" fill="#fff" stroke="#111" stroke-width="1"/>
<rect x="263.92" y="192.01" width="5.9" height="5.9" fill="#fff" stroke="#111" stroke-width="1"/>
<rect x="265.49" y="195.12" width="5.9" height="5.9" fill="#fff" stroke="#111" stroke-width="1"/>
<rect x="274.25" y="204.15" width="5.9" height="5.9" fill="#fff" stroke="#111" stroke-width="1"/>
<rect x="284.27" y="204.15" width="5.9" height="5.9" fill="#fff" stroke="#111" stroke-width="1"/>
<rect x="285.36" y="216.28" width="5.9" height="5.9" fill="#fff" stroke="#111" stroke-width="1"/>
<rect x="299.76" y="216.28" width="5.9" height="5.9" fill="#fff" stroke="#111" stroke-width="1"/>
<rect x="301.48" y="222.35" width="5.9" height="5.9" fill="#fff" stroke="#111" stroke-width="1"/>
<rect x="324.8" y="222.35" width="5.9" height="5.9" fill="#fff" stroke="#111" stroke-width="1"/>
<text x="195.8" y="165.6" class="pl" style="font-size:17px">E</text>
<text transform="translate(188,222.5) rotate(-90)" text-anchor="middle" class="yl" style="font-size:12px" textLength="62.9" lengthAdjust="spacingAndGlyphs">Survival (%)</text>
<text x="212.4" y="257" style="font-size:11.5px;fill:#111;font-family:"Liberation Serif", serif" textLength="32.3" lengthAdjust="spacingAndGlyphs"><tspan font-weight="bold" font-style="italic">P</tspan>&lt;.001</text>
<rect x="384.1" y="176.2" width="46.2" height="90.1" fill="none" stroke="#505050" stroke-width="1.1"/>
<line x1="382.6" y1="266.2" x2="384.1" y2="266.2" stroke="#505050" stroke-width="1"/>
<text x="381.6" y="268.6" text-anchor="end" class="tk">0</text>
<line x1="382.6" y1="253.34" x2="384.1" y2="253.34" stroke="#505050" stroke-width="1"/>
<text x="381.6" y="255.74" text-anchor="end" class="tk">20</text>
<line x1="382.6" y1="240.48" x2="384.1" y2="240.48" stroke="#505050" stroke-width="1"/>
<text x="381.6" y="242.88" text-anchor="end" class="tk">40</text>
<line x1="382.6" y1="227.62" x2="384.1" y2="227.62" stroke="#505050" stroke-width="1"/>
<text x="381.6" y="230.02" text-anchor="end" class="tk">60</text>
<line x1="382.6" y1="214.76" x2="384.1" y2="214.76" stroke="#505050" stroke-width="1"/>
<text x="381.6" y="217.16" text-anchor="end" class="tk">80</text>
<line x1="382.6" y1="201.9" x2="384.1" y2="201.9" stroke="#505050" stroke-width="1"/>
<text x="381.6" y="204.3" text-anchor="end" class="tk">100</text>
<line x1="382.6" y1="189.04" x2="384.1" y2="189.04" stroke="#505050" stroke-width="1"/>
<text x="381.6" y="191.44" text-anchor="end" class="tk">120</text>
<line x1="382.6" y1="176.18" x2="384.1" y2="176.18" stroke="#505050" stroke-width="1"/>
<text x="381.6" y="178.58" text-anchor="end" class="tk">140</text>
<line x1="385" y1="266.3" x2="385" y2="267.8" stroke="#505050" stroke-width="1"/>
<text x="385" y="277" text-anchor="middle" class="tk">0</text>
<line x1="429.8" y1="266.3" x2="429.8" y2="267.8" stroke="#505050" stroke-width="1"/>
<text x="429.8" y="277" text-anchor="middle" class="tk">50</text>
<path d="M385,202.8 L397.54,200.23 L400.23,199.97 L402.92,200.23 L405.61,200.1 L409.19,200.94 L415.91,198.88 L419.05,199.01 L422.54,200.68" fill="none" stroke="#111" stroke-width="1"/>
<path d="M415.91,196.31 V201.45 M413.21,196.31 H418.61 M413.21,201.45 H418.61" stroke="#111" stroke-width="1" fill="none"/>
<path d="M419.05,196.43 V201.58 M416.35,196.43 H421.75 M416.35,201.58 H421.75" stroke="#111" stroke-width="1" fill="none"/>
<path d="M385,199.5 L388.63,205.44 L381.37,205.44 Z" fill="#fff" stroke="#111" stroke-width="1"/>
<path d="M397.54,196.93 L401.17,202.87 L393.91,202.87 Z" fill="#fff" stroke="#111" stroke-width="1"/>
<path d="M400.23,196.67 L403.86,202.61 L396.6,202.61 Z" fill="#fff" stroke="#111" stroke-width="1"/>
<path d="M402.92,196.93 L406.55,202.87 L399.29,202.87 Z" fill="#fff" stroke="#111" stroke-width="1"/>
<path d="M405.61,196.8 L409.24,202.74 L401.98,202.74 Z" fill="#fff" stroke="#111" stroke-width="1"/>
<path d="M409.19,197.64 L412.82,203.58 L405.56,203.58 Z" fill="#fff" stroke="#111" stroke-width="1"/>
<path d="M415.91,195.58 L419.54,201.52 L412.28,201.52 Z" fill="#fff" stroke="#111" stroke-width="1"/>
<path d="M419.05,195.71 L422.68,201.65 L415.42,201.65 Z" fill="#fff" stroke="#111" stroke-width="1"/>
<path d="M422.54,197.38 L426.17,203.32 L418.91,203.32 Z" fill="#fff" stroke="#111" stroke-width="1"/>
<text x="371.2" y="164.8" class="pl" style="font-size:17px">F</text>
<text transform="translate(361.5,221.2) rotate(-90)" text-anchor="middle" class="yl" style="font-size:12px" textLength="130.9" lengthAdjust="spacingAndGlyphs">Change in body weight (%)</text>
<rect x="469.4" y="176.2" width="47.1" height="89.6" fill="none" stroke="#505050" stroke-width="1.1"/>
<line x1="467.9" y1="265.7" x2="469.4" y2="265.7" stroke="#505050" stroke-width="1"/>
<text x="466.9" y="268.1" text-anchor="end" class="tk">0</text>
<line x1="467.9" y1="254.5" x2="469.4" y2="254.5" stroke="#505050" stroke-width="1"/>
<text x="466.9" y="256.9" text-anchor="end" class="tk">10</text>
<line x1="467.9" y1="243.3" x2="469.4" y2="243.3" stroke="#505050" stroke-width="1"/>
<text x="466.9" y="245.7" text-anchor="end" class="tk">20</text>
<line x1="467.9" y1="232.1" x2="469.4" y2="232.1" stroke="#505050" stroke-width="1"/>
<text x="466.9" y="234.5" text-anchor="end" class="tk">30</text>
<line x1="467.9" y1="220.9" x2="469.4" y2="220.9" stroke="#505050" stroke-width="1"/>
<text x="466.9" y="223.3" text-anchor="end" class="tk">40</text>
<line x1="467.9" y1="209.7" x2="469.4" y2="209.7" stroke="#505050" stroke-width="1"/>
<text x="466.9" y="212.1" text-anchor="end" class="tk">50</text>
<line x1="467.9" y1="198.5" x2="469.4" y2="198.5" stroke="#505050" stroke-width="1"/>
<text x="466.9" y="200.9" text-anchor="end" class="tk">60</text>
<line x1="467.9" y1="187.3" x2="469.4" y2="187.3" stroke="#505050" stroke-width="1"/>
<text x="466.9" y="189.7" text-anchor="end" class="tk">70</text>
<line x1="467.9" y1="176.1" x2="469.4" y2="176.1" stroke="#505050" stroke-width="1"/>
<text x="466.9" y="178.5" text-anchor="end" class="tk">80</text>
<line x1="471.4" y1="265.8" x2="471.4" y2="267.3" stroke="#505050" stroke-width="1"/>
<text x="471.4" y="277" text-anchor="middle" class="tk">0</text>
<line x1="513.8" y1="265.8" x2="513.8" y2="267.3" stroke="#505050" stroke-width="1"/>
<text x="513.8" y="277" text-anchor="middle" class="tk">50</text>
<path d="M471.4,265.7 L475.81,265.7 L479.2,265.7 L490.23,246.77 L490.73,249.35 L495.4,244.64 L503.28,232.88 L508.03,233.89" fill="none" stroke="#111" stroke-width="1"/>
<path d="M490.23,233.33 V260.21 M487.53,233.33 H492.93 M487.53,260.21 H492.93" stroke="#111" stroke-width="1" fill="none"/>
<path d="M490.73,238.15 V260.55 M488.03,238.15 H493.43 M488.03,260.55 H493.43" stroke="#111" stroke-width="1" fill="none"/>
<path d="M495.4,237.92 V251.36 M492.7,237.92 H498.1 M492.7,251.36 H498.1" stroke="#111" stroke-width="1" fill="none"/>
<path d="M503.28,223.92 V241.84 M500.58,223.92 H505.98 M500.58,241.84 H505.98" stroke="#111" stroke-width="1" fill="none"/>
<path d="M471.4,262.4 L475.03,268.34 L467.77,268.34 Z" fill="#fff" stroke="#111" stroke-width="1"/>
<path d="M475.81,262.4 L479.44,268.34 L472.18,268.34 Z" fill="#fff" stroke="#111" stroke-width="1"/>
<path d="M479.2,262.4 L482.83,268.34 L475.57,268.34 Z" fill="#fff" stroke="#111" stroke-width="1"/>
<path d="M490.23,243.47 L493.86,249.41 L486.6,249.41 Z" fill="#fff" stroke="#111" stroke-width="1"/>
<path d="M490.73,246.05 L494.36,251.99 L487.1,251.99 Z" fill="#fff" stroke="#111" stroke-width="1"/>
<path d="M495.4,241.34 L499.03,247.28 L491.77,247.28 Z" fill="#fff" stroke="#111" stroke-width="1"/>
<path d="M503.28,229.58 L506.91,235.52 L499.65,235.52 Z" fill="#fff" stroke="#111" stroke-width="1"/>
<path d="M508.03,230.59 L511.66,236.53 L504.4,236.53 Z" fill="#fff" stroke="#111" stroke-width="1"/>
<text x="459" y="165.6" class="pl" style="font-size:17px">G</text>
<text transform="translate(452.5,221.2) rotate(-90)" text-anchor="middle" class="yl" style="font-size:12px" textLength="133.5" lengthAdjust="spacingAndGlyphs">Increase in ear swelling (%)</text>
<text x="34.8" y="302" class="yl" style="font-size:11.2px" textLength="129" lengthAdjust="spacingAndGlyphs">Days post GvHD induction</text>
<text x="206.9" y="302" class="yl" style="font-size:11.2px" textLength="130.2" lengthAdjust="spacingAndGlyphs">Days post GvHD induction</text>
<text x="382.2" y="302" class="yl" style="font-size:11.2px" textLength="130.1" lengthAdjust="spacingAndGlyphs">Days post GvHD induction</text>
<text x="2.6" y="335.6" class="pl" style="font-size:16.5px">H</text>
<text x="105.8" y="334.6" class="hl" style="font-size:16px" textLength="47.7" lengthAdjust="spacingAndGlyphs">Day 12</text>
<text x="339.4" y="334.6" class="hl" style="font-size:16px" textLength="48.1" lengthAdjust="spacingAndGlyphs">Day 28</text>
<text transform="translate(14.4,447.5) rotate(-90)" class="hl" style="font-size:16px" textLength="90.4" lengthAdjust="spacingAndGlyphs">Recipients of</text>
<text transform="translate(34.5,438.9) rotate(-90)" class="hl" style="font-size:16px" textLength="72.4" lengthAdjust="spacingAndGlyphs">WT T cells</text>
<text transform="translate(15,561) rotate(-90)" class="hl" style="font-size:16px" textLength="89.5" lengthAdjust="spacingAndGlyphs">Recipients of</text>
<text transform="translate(34.5,564.5) rotate(-90)" class="hl" style="font-size:16px" textLength="30.5" lengthAdjust="spacingAndGlyphs">CCR6</text>
<text transform="translate(31.5,533.5) rotate(-90)" class="hl" style="font-size:13px" textLength="21" lengthAdjust="spacingAndGlyphs">&#8722;/&#8722;</text>
<text transform="translate(34.5,509.5) rotate(-90)" class="hl" style="font-size:16px" textLength="43.5" lengthAdjust="spacingAndGlyphs">T cells</text>
<defs>
<filter id="dk" x="0" y="0" width="100%" height="100%" color-interpolation-filters="sRGB"><feTurbulence type="fractalNoise" baseFrequency="0.55" numOctaves="3" seed="7"/><feColorMatrix type="matrix" values="0 0 0 0 0.78  0 0 0 0 0.22  0 0 0 0 0.48  3.2 0 0 0 -1.45"/><feGaussianBlur stdDeviation="0.35"/></filter>
<filter id="lt" x="0" y="0" width="100%" height="100%" color-interpolation-filters="sRGB"><feTurbulence type="fractalNoise" baseFrequency="0.5" numOctaves="3" seed="19"/><feColorMatrix type="matrix" values="0 0 0 0 1  0 0 0 0 0.96  0 0 0 0 0.98  3.2 0 0 0 -1.45"/><feGaussianBlur stdDeviation="0.35"/></filter>
<filter id="lv" x="0" y="0" width="100%" height="100%" color-interpolation-filters="sRGB"><feTurbulence type="fractalNoise" baseFrequency="0.35" numOctaves="3" seed="31"/><feColorMatrix type="matrix" values="0 0 0 0 0.7  0 0 0 0 0.68  0 0 0 0 0.84  3 0 0 0 -1.35"/><feGaussianBlur stdDeviation="0.5"/></filter>
<filter id="sp" x="0" y="0" width="100%" height="100%" color-interpolation-filters="sRGB"><feTurbulence type="fractalNoise" baseFrequency="0.7" numOctaves="2" seed="3"/><feColorMatrix type="matrix" values="0 0 0 0 0.86  0 0 0 0 0.5  0 0 0 0 0.64  5 0 0 0 -2.9"/><feGaussianBlur stdDeviation="0.3"/></filter>
<linearGradient id="p13g" x1="0" y1="0" x2="0" y2="1"><stop offset="0.35" stop-color="#e591b4" stop-opacity="0"/><stop offset="1" stop-color="#e591b4" stop-opacity="0.55"/></linearGradient>
<radialGradient id="bluec" cx="0" cy="0" r="1"><stop offset="0" stop-color="#cfe6f3"/><stop offset="1" stop-color="#cfe6f3" stop-opacity="0"/></radialGradient>
<filter id="bl1"><feGaussianBlur stdDeviation="0.6"/></filter>
<filter id="bl2"><feGaussianBlur stdDeviation="1.5"/></filter>
<clipPath id="c00"><rect x="47.6" y="345.7" width="154.6" height="111.1"/></clipPath>
<clipPath id="c01"><rect x="208.0" y="345.7" width="154.3" height="111.1"/></clipPath>
<clipPath id="c02"><rect x="364.6" y="345.7" width="154.7" height="111.1"/></clipPath>
<clipPath id="c10"><rect x="47.6" y="460.3" width="154.6" height="110.7"/></clipPath>
<clipPath id="c11"><rect x="208.0" y="460.3" width="154.3" height="110.7"/></clipPath>
<clipPath id="c12"><rect x="364.6" y="460.3" width="154.7" height="110.7"/></clipPath>
</defs>
<g clip-path="url(#c00)">
<rect x="47.6" y="345.7" width="154.6" height="111.1" fill="#fdfcfd"/>
<ellipse cx="47.6" cy="345.7" rx="14" ry="22" fill="url(#bluec)"/>
<path d="M66.5,344.0 L70.0,360.0 L74.0,380.0 L78.5,400.0 L81.5,412.0 L84.0,422.0 L89.0,436.0 L94.0,448.0 L97.0,458.0 L169.5,458.0 L169.0,456.4 L167.1,454.8 L166.5,453.2 L164.3,451.6 L162.8,450.0 L162.4,448.0 L161.0,446.0 L158.6,444.0 L160.0,441.3 L158.1,439.0 L157.3,436.7 L155.0,434.4 L153.9,432.4 L152.5,430.5 L151.2,428.5 L150.5,426.8 L149.5,425.0 L149.9,422.6 L150.0,420.3 L149.2,417.9 L148.4,416.0 L147.7,414.1 L146.5,412.1 L145.7,410.2 L144.5,408.3 L146.0,406.4 L146.4,404.4 L146.0,402.4 L144.9,400.4 L144.7,398.5 L144.2,396.5 L141.0,394.5 L140.6,392.5 L138.9,390.6 L138.1,388.6 L137.8,386.3 L136.8,383.9 L136.3,381.6 L134.2,380.0 L134.1,376.7 L134.0,374.7 L133.1,372.8 L131.1,370.8 L130.4,368.8 L127.1,366.8 L127.0,364.5 L125.7,362.3 L124.5,360.0 L124.7,358.0 L125.8,356.0 L125.3,353.5 L124.8,351.0 L124.3,348.7 L122.7,346.3 L121.4,344.0 Z" fill="#f7eaf0"/>
<clipPath id="tx20"><path d="M66.5,344.0 L70.0,360.0 L74.0,380.0 L78.5,400.0 L81.5,412.0 L84.0,422.0 L89.0,436.0 L94.0,448.0 L97.0,458.0 L169.5,458.0 L169.0,456.4 L167.1,454.8 L166.5,453.2 L164.3,451.6 L162.8,450.0 L162.4,448.0 L161.0,446.0 L158.6,444.0 L160.0,441.3 L158.1,439.0 L157.3,436.7 L155.0,434.4 L153.9,432.4 L152.5,430.5 L151.2,428.5 L150.5,426.8 L149.5,425.0 L149.9,422.6 L150.0,420.3 L149.2,417.9 L148.4,416.0 L147.7,414.1 L146.5,412.1 L145.7,410.2 L144.5,408.3 L146.0,406.4 L146.4,404.4 L146.0,402.4 L144.9,400.4 L144.7,398.5 L144.2,396.5 L141.0,394.5 L140.6,392.5 L138.9,390.6 L138.1,388.6 L137.8,386.3 L136.8,383.9 L136.3,381.6 L134.2,380.0 L134.1,376.7 L134.0,374.7 L133.1,372.8 L131.1,370.8 L130.4,368.8 L127.1,366.8 L127.0,364.5 L125.7,362.3 L124.5,360.0 L124.7,358.0 L125.8,356.0 L125.3,353.5 L124.8,351.0 L124.3,348.7 L122.7,346.3 L121.4,344.0 Z"/></clipPath>
<rect x="47.6" y="345.7" width="154.6" height="111.1" filter="url(#sp)" clip-path="url(#tx20)" opacity="0.9"/>
<path d="M80.0,344.0 L86.0,355.0 L90.0,365.0 L93.0,375.0 L97.0,388.0 L101.0,400.0 L105.0,415.0 L108.0,430.0 L112.0,445.0 L115.0,458.0 L169.5,458.0 L169.0,456.4 L167.1,454.8 L166.5,453.2 L164.3,451.6 L162.8,450.0 L162.4,448.0 L161.0,446.0 L158.6,444.0 L160.0,441.3 L158.1,439.0 L157.3,436.7 L155.0,434.4 L153.9,432.4 L152.5,430.5 L151.2,428.5 L150.5,426.8 L149.5,425.0 L149.9,422.6 L150.0,420.3 L149.2,417.9 L148.4,416.0 L147.7,414.1 L146.5,412.1 L145.7,410.2 L144.5,408.3 L146.0,406.4 L146.4,404.4 L146.0,402.4 L144.9,400.4 L144.7,398.5 L144.2,396.5 L141.0,394.5 L140.6,392.5 L138.9,390.6 L138.1,388.6 L137.8,386.3 L136.8,383.9 L136.3,381.6 L134.2,380.0 L134.1,376.7 L134.0,374.7 L133.1,372.8 L131.1,370.8 L130.4,368.8 L127.1,366.8 L127.0,364.5 L125.7,362.3 L124.5,360.0 L124.7,358.0 L125.8,356.0 L125.3,353.5 L124.8,351.0 L124.3,348.7 L122.7,346.3 L121.4,344.0 Z" fill="#eeabc3"/>
<clipPath id="tx23"><path d="M80.0,344.0 L86.0,355.0 L90.0,365.0 L93.0,375.0 L97.0,388.0 L101.0,400.0 L105.0,415.0 L108.0,430.0 L112.0,445.0 L115.0,458.0 L169.5,458.0 L169.0,456.4 L167.1,454.8 L166.5,453.2 L164.3,451.6 L162.8,450.0 L162.4,448.0 L161.0,446.0 L158.6,444.0 L160.0,441.3 L158.1,439.0 L157.3,436.7 L155.0,434.4 L153.9,432.4 L152.5,430.5 L151.2,428.5 L150.5,426.8 L149.5,425.0 L149.9,422.6 L150.0,420.3 L149.2,417.9 L148.4,416.0 L147.7,414.1 L146.5,412.1 L145.7,410.2 L144.5,408.3 L146.0,406.4 L146.4,404.4 L146.0,402.4 L144.9,400.4 L144.7,398.5 L144.2,396.5 L141.0,394.5 L140.6,392.5 L138.9,390.6 L138.1,388.6 L137.8,386.3 L136.8,383.9 L136.3,381.6 L134.2,380.0 L134.1,376.7 L134.0,374.7 L133.1,372.8 L131.1,370.8 L130.4,368.8 L127.1,366.8 L127.0,364.5 L125.7,362.3 L124.5,360.0 L124.7,358.0 L125.8,356.0 L125.3,353.5 L124.8,351.0 L124.3,348.7 L122.7,346.3 L121.4,344.0 Z"/></clipPath>
<rect x="47.6" y="345.7" width="154.6" height="111.1" filter="url(#dk)" clip-path="url(#tx23)" opacity="0.55"/>
<clipPath id="tx25"><path d="M80.0,344.0 L86.0,355.0 L90.0,365.0 L93.0,375.0 L97.0,388.0 L101.0,400.0 L105.0,415.0 L108.0,430.0 L112.0,445.0 L115.0,458.0 L169.5,458.0 L169.0,456.4 L167.1,454.8 L166.5,453.2 L164.3,451.6 L162.8,450.0 L162.4,448.0 L161.0,446.0 L158.6,444.0 L160.0,441.3 L158.1,439.0 L157.3,436.7 L155.0,434.4 L153.9,432.4 L152.5,430.5 L151.2,428.5 L150.5,426.8 L149.5,425.0 L149.9,422.6 L150.0,420.3 L149.2,417.9 L148.4,416.0 L147.7,414.1 L146.5,412.1 L145.7,410.2 L144.5,408.3 L146.0,406.4 L146.4,404.4 L146.0,402.4 L144.9,400.4 L144.7,398.5 L144.2,396.5 L141.0,394.5 L140.6,392.5 L138.9,390.6 L138.1,388.6 L137.8,386.3 L136.8,383.9 L136.3,381.6 L134.2,380.0 L134.1,376.7 L134.0,374.7 L133.1,372.8 L131.1,370.8 L130.4,368.8 L127.1,366.8 L127.0,364.5 L125.7,362.3 L124.5,360.0 L124.7,358.0 L125.8,356.0 L125.3,353.5 L124.8,351.0 L124.3,348.7 L122.7,346.3 L121.4,344.0 Z"/></clipPath>
<rect x="47.6" y="345.7" width="154.6" height="111.1" filter="url(#lt)" clip-path="url(#tx25)" opacity="0.7"/>
<path d="M66.5,344.0 C67.1,346.7 68.8,354.0 70.0,360.0 C71.2,366.0 72.6,373.3 74.0,380.0 C75.4,386.7 77.2,394.7 78.5,400.0 C79.8,405.3 80.6,408.3 81.5,412.0 C82.4,415.7 82.8,418.0 84.0,422.0 C85.2,426.0 87.3,431.7 89.0,436.0 C90.7,440.3 92.7,444.3 94.0,448.0 C95.3,451.7 96.5,456.3 97.0,458.0" fill="none" stroke="#d9c9d2" stroke-width="0.8"/>
<path d="M76.5,355.5 C76.8,357.1 77.8,361.8 78.5,365.0 C79.2,368.2 79.8,371.7 80.5,375.0 C81.2,378.3 82.2,381.7 83.0,385.0 C83.8,388.3 84.6,391.7 85.5,395.0 C86.4,398.3 87.6,402.0 88.5,405.0 C89.4,408.0 90.2,410.5 91.0,413.0 C91.8,415.5 92.8,418.0 93.5,420.0 C94.2,422.0 94.8,424.2 95.0,425.0" fill="none" stroke="#e7a3bf" stroke-width="5" stroke-linecap="round" opacity="0.8"/>
<path d="M74.9,355.5 C74.9,355.9 75.0,357.1 75.1,357.9 C75.2,358.7 75.1,359.5 75.5,360.2 C75.9,361.0 77.1,361.8 77.3,362.6 C77.6,363.4 77.1,364.2 77.2,365.0 C77.3,365.8 77.8,366.7 77.9,367.5 C78.1,368.3 78.1,369.2 78.2,370.0 C78.3,370.8 78.2,371.7 78.4,372.5 C78.6,373.3 79.3,374.2 79.5,375.0 C79.8,375.8 79.6,376.7 79.9,377.5 C80.1,378.3 80.6,379.2 80.9,380.0 C81.1,380.8 81.0,381.7 81.3,382.5 C81.5,383.3 82.1,384.2 82.2,385.0 C82.4,385.8 82.1,386.7 82.1,387.5 C82.1,388.3 82.1,389.2 82.2,390.0 C82.4,390.8 82.5,391.7 82.8,392.5 C83.2,393.3 84.3,394.2 84.5,395.0 C84.7,395.8 84.0,396.7 84.3,397.5 C84.5,398.3 85.5,399.2 85.9,400.0 C86.3,400.8 86.5,401.7 86.6,402.5 C86.6,403.3 86.0,404.1 86.3,405.0 C86.6,405.9 88.2,406.8 88.4,407.7 C88.7,408.6 87.6,409.4 87.9,410.3 C88.2,411.2 89.7,412.2 90.3,413.0 C90.8,413.8 91.0,414.6 91.0,415.3 C91.1,416.1 90.5,416.9 90.8,417.7 C91.0,418.4 92.1,419.2 92.5,420.0 C92.9,420.8 93.1,421.7 93.3,422.5 C93.5,423.3 93.5,424.6 93.6,425.0" fill="none" stroke="#bf1d60" stroke-width="2.2" stroke-dasharray="6 1.5 3 1.2" opacity="0.95"/>
<path d="M78.4,356.3 C78.2,356.7 77.7,357.9 77.7,358.7 C77.8,359.5 78.5,360.3 78.7,361.1 C78.9,361.8 78.8,362.6 79.1,363.4 C79.4,364.2 80.2,365.0 80.5,365.8 C80.8,366.6 80.7,367.5 80.9,368.3 C81.1,369.1 81.8,370.0 81.8,370.8 C81.8,371.6 80.8,372.5 80.9,373.3 C80.9,374.1 81.8,375.0 82.0,375.8 C82.1,376.6 81.7,377.5 81.9,378.3 C82.0,379.1 82.5,380.0 82.8,380.8 C83.2,381.6 83.8,382.5 84.0,383.3 C84.1,384.1 83.6,385.0 83.7,385.8 C83.9,386.6 84.3,387.5 84.7,388.3 C85.1,389.1 85.8,390.0 86.1,390.8 C86.4,391.6 86.5,392.5 86.6,393.3 C86.6,394.1 86.4,395.0 86.6,395.8 C86.8,396.6 87.6,397.5 88.0,398.3 C88.4,399.1 89.1,400.0 89.2,400.8 C89.2,401.6 88.2,402.5 88.5,403.3 C88.7,404.1 90.2,404.9 90.7,405.8 C91.1,406.7 91.2,407.6 91.3,408.5 C91.4,409.4 91.4,410.2 91.5,411.1 C91.6,412.0 91.5,413.0 92.0,413.8 C92.4,414.6 93.9,415.4 94.3,416.1 C94.6,416.9 94.0,417.7 94.0,418.5 C94.0,419.2 94.2,420.0 94.4,420.8 C94.6,421.6 94.8,422.5 95.1,423.3 C95.5,424.1 96.4,425.4 96.6,425.8" fill="none" stroke="#c2205f" stroke-width="2.0" stroke-dasharray="4 2 7 1.5" opacity="0.9"/>
<path d="M76.5,355.5 C76.8,357.1 77.8,361.8 78.5,365.0 C79.2,368.2 79.8,371.7 80.5,375.0 C81.2,378.3 82.2,381.7 83.0,385.0 C83.8,388.3 84.6,391.7 85.5,395.0 C86.4,398.3 87.6,402.0 88.5,405.0 C89.4,408.0 90.2,410.5 91.0,413.0 C91.8,415.5 92.8,418.0 93.5,420.0 C94.2,422.0 94.8,424.2 95.0,425.0" fill="none" stroke="#d0407c" stroke-width="1.2" opacity="0.7"/>
<path d="M93,360.5 L124,352" stroke="#c8306e" stroke-width="1.6" fill="none" opacity="0.9"/>
<path d="M103.5,388.5 L134.5,380.5" stroke="#c8306e" stroke-width="1.6" fill="none" opacity="0.9"/>
<path d="M111,414.5 L144,406" stroke="#c8306e" stroke-width="1.6" fill="none" opacity="0.9"/>
<path d="M128,447.6 L153.5,440" stroke="#c8306e" stroke-width="1.6" fill="none" opacity="0.9"/>
<ellipse cx="106.5" cy="372.2" rx="2.5" ry="1" fill="#b7326a" transform="rotate(-15 106.5 372.2)"/>
<ellipse cx="123.5" cy="400" rx="2.5" ry="1" fill="#b7326a" transform="rotate(-15 123.5 400)"/>
<ellipse cx="134.2" cy="435.3" rx="2.5" ry="1" fill="#b7326a" transform="rotate(-15 134.2 435.3)"/>
<path d="M121.4,344.0 C121.6,344.4 122.2,345.6 122.7,346.3 C123.2,347.1 123.9,347.9 124.3,348.7 C124.6,349.4 124.6,350.2 124.8,351.0 C124.9,351.8 125.1,352.7 125.3,353.5 C125.4,354.3 125.9,355.2 125.8,356.0 C125.7,356.8 124.9,357.3 124.7,358.0 C124.4,358.7 124.3,359.3 124.5,360.0 C124.7,360.7 125.3,361.5 125.7,362.3 C126.2,363.0 126.8,363.8 127.0,364.5 C127.3,365.3 126.6,366.1 127.1,366.8 C127.7,367.5 129.8,368.1 130.4,368.8 C131.1,369.5 130.7,370.1 131.1,370.8 C131.6,371.4 132.7,372.1 133.1,372.8 C133.6,373.4 133.8,374.1 134.0,374.7 C134.1,375.4 134.0,375.8 134.1,376.7 C134.1,377.6 133.8,379.2 134.2,380.0 C134.5,380.8 135.8,380.9 136.3,381.6 C136.7,382.3 136.6,383.2 136.8,383.9 C137.1,384.7 137.5,385.5 137.8,386.3 C138.0,387.0 137.9,387.9 138.1,388.6 C138.3,389.3 138.5,389.9 138.9,390.6 C139.3,391.2 140.3,391.9 140.6,392.5 C141.0,393.2 140.4,393.8 141.0,394.5 C141.6,395.2 143.5,395.8 144.2,396.5 C144.8,397.2 144.6,397.8 144.7,398.5 C144.8,399.1 144.7,399.8 144.9,400.4 C145.1,401.1 145.7,401.8 146.0,402.4 C146.2,403.1 146.4,403.7 146.4,404.4 C146.4,405.1 146.3,405.7 146.0,406.4 C145.7,407.0 144.6,407.7 144.5,408.3 C144.5,408.9 145.4,409.6 145.7,410.2 C146.0,410.9 146.2,411.5 146.5,412.1 C146.8,412.8 147.4,413.4 147.7,414.1 C148.1,414.7 148.2,415.3 148.4,416.0 C148.7,416.6 148.9,417.2 149.2,417.9 C149.5,418.6 149.9,419.5 150.0,420.3 C150.1,421.1 150.0,421.8 149.9,422.6 C149.8,423.4 149.4,424.3 149.5,425.0 C149.6,425.7 150.2,426.2 150.5,426.8 C150.8,427.3 150.9,427.9 151.2,428.5 C151.6,429.1 152.0,429.8 152.5,430.5 C152.9,431.1 153.5,431.8 153.9,432.4 C154.4,433.1 154.4,433.7 155.0,434.4 C155.6,435.1 156.8,435.9 157.3,436.7 C157.8,437.5 157.6,438.2 158.1,439.0 C158.5,439.8 159.9,440.5 160.0,441.3 C160.1,442.1 158.5,443.2 158.6,444.0 C158.8,444.8 160.4,445.3 161.0,446.0 C161.6,446.7 162.1,447.3 162.4,448.0 C162.7,448.7 162.5,449.4 162.8,450.0 C163.1,450.6 163.7,451.1 164.3,451.6 C164.9,452.1 166.0,452.7 166.5,453.2 C166.9,453.7 166.6,454.3 167.1,454.8 C167.5,455.3 168.6,455.9 169.0,456.4 C169.4,456.9 169.4,457.7 169.5,458.0" fill="none" stroke="#e18aab" stroke-width="1.5"/>
</g>
<g clip-path="url(#c01)">
<rect x="208.0" y="345.7" width="154.3" height="111.1" fill="#fdfcfd"/>
<path d="M207.0,344.0 L261.0,344.0 L262.0,354.0 L265.0,366.0 L272.0,377.0 L275.0,382.0 L279.0,379.0 L290.0,378.5 L295.0,386.5 L296.7,397.6 L304.0,383.0 L312.0,378.5 L328.0,372.0 L341.0,369.0 L352.0,370.5 L364.0,372.0 L364.0,458.0 L364.0,457.5 L320.0,446.0 L287.0,439.0 L268.0,436.5 L240.0,422.0 L207.0,411.0 Z" fill="#faf3f6"/>
<clipPath id="tx44"><path d="M207.0,344.0 L261.0,344.0 L262.0,354.0 L265.0,366.0 L272.0,377.0 L275.0,382.0 L279.0,379.0 L290.0,378.5 L295.0,386.5 L296.7,397.6 L304.0,383.0 L312.0,378.5 L328.0,372.0 L341.0,369.0 L352.0,370.5 L364.0,372.0 L364.0,458.0 L364.0,457.5 L320.0,446.0 L287.0,439.0 L268.0,436.5 L240.0,422.0 L207.0,411.0 Z"/></clipPath>
<rect x="208.0" y="345.7" width="154.3" height="111.1" filter="url(#sp)" clip-path="url(#tx44)" opacity="0.55"/>
<path d="M207.0,344.0 L261.0,344.0 L262.0,354.0 L265.0,366.0 L272.0,377.0 L275.0,382.0 L279.0,379.0 L290.0,378.5 L295.0,386.5 L296.7,397.6 L304.0,383.0 L312.0,378.5 L328.0,372.0 L341.0,369.0 L352.0,370.5 L364.0,372.0 L364.0,434.0 L345.0,429.0 L320.0,425.5 L287.0,422.5 L268.5,418.0 L248.5,409.0 L230.0,398.0 L207.0,386.0 Z" fill="#eda6bf"/>
<clipPath id="tx47"><path d="M207.0,344.0 L261.0,344.0 L262.0,354.0 L265.0,366.0 L272.0,377.0 L275.0,382.0 L279.0,379.0 L290.0,378.5 L295.0,386.5 L296.7,397.6 L304.0,383.0 L312.0,378.5 L328.0,372.0 L341.0,369.0 L352.0,370.5 L364.0,372.0 L364.0,434.0 L345.0,429.0 L320.0,425.5 L287.0,422.5 L268.5,418.0 L248.5,409.0 L230.0,398.0 L207.0,386.0 Z"/></clipPath>
<rect x="208.0" y="345.7" width="154.3" height="111.1" filter="url(#dk)" clip-path="url(#tx47)" opacity="0.5"/>
<clipPath id="tx49"><path d="M207.0,344.0 L261.0,344.0 L262.0,354.0 L265.0,366.0 L272.0,377.0 L275.0,382.0 L279.0,379.0 L290.0,378.5 L295.0,386.5 L296.7,397.6 L304.0,383.0 L312.0,378.5 L328.0,372.0 L341.0,369.0 L352.0,370.5 L364.0,372.0 L364.0,434.0 L345.0,429.0 L320.0,425.5 L287.0,422.5 L268.5,418.0 L248.5,409.0 L230.0,398.0 L207.0,386.0 Z"/></clipPath>
<rect x="208.0" y="345.7" width="154.3" height="111.1" filter="url(#lt)" clip-path="url(#tx49)" opacity="0.55"/>
<path d="M207.0,362.0 L220.0,364.0 L233.0,368.0 L243.0,380.0 L253.0,391.0 L268.0,400.0 L280.0,406.0 L300.0,410.0 L320.0,413.0 L340.0,415.0 L364.0,419.0 L364.0,434.0 L345.0,429.0 L320.0,425.5 L287.0,422.5 L268.5,418.0 L248.5,409.0 L230.0,398.0 L207.0,386.0 Z" fill="#f7ebf0" opacity="0.95"/>
<clipPath id="tx52"><path d="M207.0,362.0 L220.0,364.0 L233.0,368.0 L243.0,380.0 L253.0,391.0 L268.0,400.0 L280.0,406.0 L300.0,410.0 L320.0,413.0 L340.0,415.0 L364.0,419.0 L364.0,434.0 L345.0,429.0 L320.0,425.5 L287.0,422.5 L268.5,418.0 L248.5,409.0 L230.0,398.0 L207.0,386.0 Z"/></clipPath>
<rect x="208.0" y="345.7" width="154.3" height="111.1" filter="url(#sp)" clip-path="url(#tx52)" opacity="0.8"/>
<path d="M207.0,386.0 L230.0,398.0 L248.5,409.0 L268.5,418.0 L287.0,422.5 L320.0,425.5 L345.0,429.0 L364.0,434.0 L364.0,444.0 L345.0,437.0 L320.0,431.0 L287.0,427.5 L268.5,423.5 L248.5,413.0 L230.0,403.5 L207.0,392.0 Z" fill="#d9508a"/>
<clipPath id="tx55"><path d="M207.0,386.0 L230.0,398.0 L248.5,409.0 L268.5,418.0 L287.0,422.5 L320.0,425.5 L345.0,429.0 L364.0,434.0 L364.0,444.0 L345.0,437.0 L320.0,431.0 L287.0,427.5 L268.5,423.5 L248.5,413.0 L230.0,403.5 L207.0,392.0 Z"/></clipPath>
<rect x="208.0" y="345.7" width="154.3" height="111.1" filter="url(#dk)" clip-path="url(#tx55)" opacity="0.9"/>
<clipPath id="tx57"><path d="M207.0,386.0 L230.0,398.0 L248.5,409.0 L268.5,418.0 L287.0,422.5 L320.0,425.5 L345.0,429.0 L364.0,434.0 L364.0,444.0 L345.0,437.0 L320.0,431.0 L287.0,427.5 L268.5,423.5 L248.5,413.0 L230.0,403.5 L207.0,392.0 Z"/></clipPath>
<rect x="208.0" y="345.7" width="154.3" height="111.1" filter="url(#lt)" clip-path="url(#tx57)" opacity="0.35"/>
<path d="M261.5,345.0 C261.6,346.5 261.5,350.4 262.0,354.0 C262.5,357.6 263.1,362.6 264.7,366.5 C266.3,370.4 269.9,374.7 271.6,377.3 C273.3,379.9 273.4,381.6 274.7,381.9 C276.0,382.1 278.5,379.3 279.3,378.8" fill="none" stroke="#b23a6c" stroke-width="1.4"/>
<path d="M290.0,380.0 C290.8,381.2 293.4,384.2 294.5,387.0 C295.6,389.8 295.8,396.2 296.5,397.0 C297.2,397.8 297.8,394.3 299.0,392.0 C300.2,389.7 303.2,384.5 304.0,383.0" fill="none" stroke="#b23a6c" stroke-width="1.3"/>
<path d="M296.5,397 L292,410" fill="none" stroke="#c2346e" stroke-width="1.5"/>
<clipPath id="tx62"><path d="M262,346 L300,346 L310,362 L300,374 L280,376 L268,366 Z"/></clipPath>
<rect x="208.0" y="345.7" width="154.3" height="111.1" filter="url(#sp)" clip-path="url(#tx62)" opacity="0.35"/>
</g>
<g clip-path="url(#c02)">
<rect x="364.6" y="345.7" width="154.7" height="111.1" fill="#fcfbfc"/>
<clipPath id="tx67"><path d="M364,345 L377,345 L440,457 L415,457 L364,420 Z"/></clipPath>
<rect x="364.6" y="345.7" width="154.7" height="111.1" filter="url(#sp)" clip-path="url(#tx67)" opacity="0.35"/>
<clipPath id="tx69"><path d="M364,420 L415,457 L364,457 Z"/></clipPath>
<rect x="364.6" y="345.7" width="154.7" height="111.1" filter="url(#sp)" clip-path="url(#tx69)" opacity="0.12"/>
<path d="M375.5,344.0 L381.0,356.0 L387.1,368.1 L393.0,378.0 L399.4,388.1 L405.5,400.0 L414.8,412.3 L422.5,427.7 L430.2,440.0 L436.3,450.8 L439.4,458.0 L521.0,458.0 L521.0,395.8 L512.3,394.2 L501.5,395.8 L492.3,401.9 L489.2,398.8 L492.3,389.6 L498.5,385.0 L503.1,378.8 L501.5,374.2 L493.8,368.1 L486.2,363.5 L483.1,358.8 L475.4,352.7 L467.7,344.0 Z" fill="#dfcbdf"/>
<path d="M375.5,344.0 L381.0,356.0 L387.1,368.1 L393.0,378.0 L399.4,388.1 L405.5,400.0 L414.8,412.3 L422.5,427.7 L430.2,440.0 L436.3,450.8 L439.4,458.0 L521.0,458.0 L521.0,395.8 L512.3,394.2 L501.5,395.8 L492.3,401.9 L489.2,398.8 L492.3,389.6 L498.5,385.0 L503.1,378.8 L501.5,374.2 L493.8,368.1 L486.2,363.5 L483.1,358.8 L475.4,352.7 L467.7,344.0 Z" fill="url(#p13g)"/>
<clipPath id="tx73"><path d="M375.5,344.0 L381.0,356.0 L387.1,368.1 L393.0,378.0 L399.4,388.1 L405.5,400.0 L414.8,412.3 L422.5,427.7 L430.2,440.0 L436.3,450.8 L439.4,458.0 L521.0,458.0 L521.0,395.8 L512.3,394.2 L501.5,395.8 L492.3,401.9 L489.2,398.8 L492.3,389.6 L498.5,385.0 L503.1,378.8 L501.5,374.2 L493.8,368.1 L486.2,363.5 L483.1,358.8 L475.4,352.7 L467.7,344.0 Z"/></clipPath>
<rect x="364.6" y="345.7" width="154.7" height="111.1" filter="url(#lv)" clip-path="url(#tx73)" opacity="0.45"/>
<clipPath id="tx75"><path d="M375.5,344.0 L381.0,356.0 L387.1,368.1 L393.0,378.0 L399.4,388.1 L405.5,400.0 L414.8,412.3 L422.5,427.7 L430.2,440.0 L436.3,450.8 L439.4,458.0 L521.0,458.0 L521.0,395.8 L512.3,394.2 L501.5,395.8 L492.3,401.9 L489.2,398.8 L492.3,389.6 L498.5,385.0 L503.1,378.8 L501.5,374.2 L493.8,368.1 L486.2,363.5 L483.1,358.8 L475.4,352.7 L467.7,344.0 Z"/></clipPath>
<rect x="364.6" y="345.7" width="154.7" height="111.1" filter="url(#dk)" clip-path="url(#tx75)" opacity="0.35"/>
<clipPath id="tx77"><path d="M375.5,344.0 L381.0,356.0 L387.1,368.1 L393.0,378.0 L399.4,388.1 L405.5,400.0 L414.8,412.3 L422.5,427.7 L430.2,440.0 L436.3,450.8 L439.4,458.0 L521.0,458.0 L521.0,395.8 L512.3,394.2 L501.5,395.8 L492.3,401.9 L489.2,398.8 L492.3,389.6 L498.5,385.0 L503.1,378.8 L501.5,374.2 L493.8,368.1 L486.2,363.5 L483.1,358.8 L475.4,352.7 L467.7,344.0 Z"/></clipPath>
<rect x="364.6" y="345.7" width="154.7" height="111.1" filter="url(#lt)" clip-path="url(#tx77)" opacity="0.55"/>
<ellipse cx="445.4" cy="423" rx="4" ry="3" fill="#c83a78" opacity="0.7" filter="url(#bl2)"/>
<ellipse cx="437.3" cy="407" rx="4" ry="2.5" fill="#d04a84" opacity="0.6" filter="url(#bl2)"/>
<ellipse cx="470" cy="440" rx="8" ry="5" fill="#e07aa6" opacity="0.35" filter="url(#bl2)"/>
<ellipse cx="505" cy="445" rx="10" ry="7" fill="#dd6f9d" opacity="0.3" filter="url(#bl2)"/>
<ellipse cx="470" cy="395" rx="8" ry="5" fill="#c7b3d3" opacity="0.4" filter="url(#bl2)"/>
<ellipse cx="440" cy="372" rx="10" ry="5" fill="#c9b6d6" opacity="0.4" filter="url(#bl2)"/>
<ellipse cx="500" cy="420" rx="7" ry="9" fill="#d394bb" opacity="0.3" filter="url(#bl2)"/>
<ellipse cx="460" cy="360" rx="8" ry="4" fill="#cdb8d6" opacity="0.35" filter="url(#bl2)"/>
<path d="M378.5,344.0 C379.4,346.0 382.1,352.0 384.0,356.0 C385.9,360.0 388.1,364.4 390.1,368.1 C392.1,371.8 393.9,374.7 396.0,378.0 C398.1,381.3 400.3,384.4 402.4,388.1 C404.5,391.8 405.9,396.0 408.5,400.0 C411.1,404.0 415.0,407.7 417.8,412.3 C420.6,416.9 422.9,423.1 425.5,427.7 C428.1,432.3 430.9,436.1 433.2,440.0 C435.5,443.9 437.8,447.8 439.3,450.8 C440.8,453.8 441.9,456.8 442.4,458.0" fill="none" stroke="#e07aa2" stroke-width="6" opacity="0.45" filter="url(#bl1)"/>
<clipPath id="tx88"><path d="M374.5,344.0 L380.0,356.0 L386.1,368.1 L392.0,378.0 L398.4,388.1 L404.5,400.0 L413.8,412.3 L421.5,427.7 L429.2,440.0 L435.3,450.8 L438.4,458.0 L448.4,458.0 L445.3,450.8 L439.2,440.0 L431.5,427.7 L423.8,412.3 L414.5,400.0 L408.4,388.1 L402.0,378.0 L396.1,368.1 L390.0,356.0 L384.5,344.0 Z"/></clipPath>
<rect x="364.6" y="345.7" width="154.7" height="111.1" filter="url(#dk)" clip-path="url(#tx88)" opacity="0.75"/>
<clipPath id="tx90"><path d="M382.5,344.0 L388.0,356.0 L394.1,368.1 L400.0,378.0 L406.4,388.1 L412.5,400.0 L421.8,412.3 L429.5,427.7 L437.2,440.0 L443.3,450.8 L446.4,458.0 L464.4,458.0 L461.3,450.8 L455.2,440.0 L447.5,427.7 L439.8,412.3 L430.5,400.0 L424.4,388.1 L418.0,378.0 L412.1,368.1 L406.0,356.0 L400.5,344.0 Z"/></clipPath>
<rect x="364.6" y="345.7" width="154.7" height="111.1" filter="url(#lt)" clip-path="url(#tx90)" opacity="0.6"/>
<ellipse cx="455" cy="362" rx="10" ry="5" fill="#c4b6d6" opacity="0.3" filter="url(#bl2)"/>
<ellipse cx="475" cy="380" rx="7" ry="9" fill="#c4b6d6" opacity="0.3" filter="url(#bl2)"/>
<ellipse cx="445" cy="385" rx="9" ry="6" fill="#c4b6d6" opacity="0.3" filter="url(#bl2)"/>
<ellipse cx="425" cy="360" rx="7" ry="5" fill="#c4b6d6" opacity="0.3" filter="url(#bl2)"/>
<ellipse cx="505" cy="415" rx="6" ry="9" fill="#c4b6d6" opacity="0.3" filter="url(#bl2)"/>
<ellipse cx="480" cy="440" rx="9" ry="6" fill="#c4b6d6" opacity="0.3" filter="url(#bl2)"/>
<ellipse cx="460" cy="398" rx="6" ry="4" fill="#c4b6d6" opacity="0.3" filter="url(#bl2)"/>
<path d="M425,400 Q440,395 455,410 Q465,425 470,445 L445,457 Q430,430 425,400 Z" fill="#e07ca6" opacity="0.35" filter="url(#bl2)"/>
<path d="M467.5,343.8 C467.8,344.1 468.8,345.3 469.4,345.9 C470.0,346.5 470.4,347.0 470.9,347.6 C471.5,348.2 472.2,349.0 472.6,349.5 C473.1,350.0 473.2,350.2 473.6,350.7 C474.0,351.2 474.6,351.9 475.2,352.5 C475.7,353.0 476.4,353.4 477.0,353.9 C477.7,354.4 478.3,354.9 479.0,355.5 C479.7,356.1 480.7,357.0 481.4,357.5 C482.0,358.0 482.2,357.9 482.8,358.5 C483.3,359.1 484.1,360.4 484.7,361.2 C485.2,362.0 485.4,362.7 486.0,363.3 C486.5,363.8 487.3,364.1 487.9,364.5 C488.6,364.9 489.2,365.3 489.9,365.7 C490.7,366.2 491.5,366.8 492.2,367.2 C492.8,367.6 493.4,367.9 493.9,368.2 C494.4,368.5 494.7,368.8 495.3,369.2 C495.9,369.7 496.8,370.4 497.5,371.0 C498.1,371.5 498.6,371.8 499.3,372.4 C500.0,373.0 501.3,373.8 501.8,374.5 C502.4,375.2 502.3,376.0 502.6,376.8 C502.8,377.5 503.5,378.3 503.4,379.1 C503.2,379.8 502.4,380.5 501.8,381.1 C501.3,381.8 500.7,382.4 500.2,383.1 C499.7,383.8 499.5,384.8 498.9,385.4 C498.3,386.0 497.5,386.4 496.7,386.8 C495.9,387.2 494.8,387.3 494.2,387.9 C493.5,388.4 493.0,389.2 492.6,389.9 C492.2,390.6 491.8,391.1 491.5,391.9 C491.2,392.6 491.2,393.6 491.0,394.4 C490.7,395.2 490.3,395.8 490.0,396.6 C489.7,397.3 489.0,398.1 489.1,398.7 C489.2,399.4 490.1,399.7 490.6,400.2 C491.2,400.8 491.7,401.8 492.2,401.8 C492.8,401.9 493.4,401.0 494.0,400.5 C494.6,400.1 495.0,399.5 495.7,399.1 C496.3,398.8 497.4,398.8 498.1,398.5 C498.8,398.2 499.3,397.7 499.9,397.3 C500.5,396.9 501.3,396.5 501.9,396.2 C502.6,395.9 503.2,395.8 503.8,395.6 C504.5,395.5 505.1,395.3 505.9,395.2 C506.6,395.1 507.5,395.2 508.2,395.0 C508.8,394.9 509.1,394.3 509.8,394.2 C510.5,394.1 511.7,394.3 512.4,394.3 C513.2,394.4 513.8,394.5 514.4,394.6 C515.1,394.6 515.7,394.6 516.4,394.7 C517.1,394.8 517.8,395.0 518.6,395.2 C519.3,395.3 520.6,395.7 521.0,395.8" fill="none" stroke="#c0286a" stroke-width="2.0"/>
<path d="M473.8,344.0 C475.0,345.3 478.2,349.3 481.0,352.0 C483.8,354.7 487.6,358.7 490.8,360.4 C494.0,362.1 497.2,361.2 500.0,362.0 C502.8,362.8 505.6,362.7 507.7,365.0 C509.8,367.3 511.8,371.9 512.3,375.8 C512.8,379.7 509.4,385.7 510.8,388.1 C512.2,390.5 519.3,390.0 521.0,390.4" fill="none" stroke="#9fb0bb" stroke-width="0.9"/>
</g>
<g clip-path="url(#c10)">
<rect x="47.6" y="460.3" width="154.6" height="110.7" fill="#fdfcfd"/>
<ellipse cx="47.6" cy="571.0" rx="16" ry="16" fill="url(#bluec)"/>
<path d="M46.0,491.8 L48.8,492.2 L51.6,491.7 L53.9,491.9 L56.2,491.8 L58.3,492.3 L60.3,491.8 L62.4,490.8 L64.3,492.7 L66.2,494.2 L68.2,495.8 L70.1,498.3 L72.0,499.4 L73.9,499.3 L75.9,501.2 L77.8,501.1 L80.1,500.3 L82.4,499.3 L84.4,501.3 L86.5,501.4 L88.5,502.1 L90.6,503.3 L92.6,503.9 L94.7,505.9 L96.7,507.0 L98.8,507.1 L100.8,509.2 L103.2,509.4 L105.5,510.2 L107.5,510.3 L109.6,508.1 L111.6,508.4 L114.2,508.1 L116.7,508.8 L119.3,508.9 L121.3,509.5 L123.3,509.3 L125.2,509.4 L127.2,511.1 L129.2,510.4 L131.2,512.5 L133.3,512.9 L135.3,515.4 L136.9,513.7 L138.4,511.9 L140.6,512.1 L142.7,511.9 L144.9,512.3 L147.0,511.5 L149.2,512.3 L151.5,513.3 L153.8,512.8 L156.1,514.5 L157.6,512.9 L159.2,510.7 L161.3,509.8 L163.4,509.2 L165.5,508.3 L167.6,508.5 L169.8,507.4 L171.9,506.6 L174.1,506.6 L176.2,507.4 L178.4,507.7 L180.4,505.6 L182.5,504.4 L184.5,503.2 L186.4,502.6 L188.2,500.8 L190.1,500.5 L191.9,499.5 L193.8,498.7 L195.8,497.7 L197.9,497.4 L199.9,497.5 L201.9,498.3 L204.0,497.5 L204.0,529.2 L184.5,530.0 L169.2,531.5 L153.8,533.8 L127.0,534.2 L108.5,533.1 L93.2,530.8 L77.8,528.5 L62.4,523.1 L46.0,520.8 Z" fill="#f0b6ca"/>
<clipPath id="tx107"><path d="M46.0,491.8 L48.8,492.2 L51.6,491.7 L53.9,491.9 L56.2,491.8 L58.3,492.3 L60.3,491.8 L62.4,490.8 L64.3,492.7 L66.2,494.2 L68.2,495.8 L70.1,498.3 L72.0,499.4 L73.9,499.3 L75.9,501.2 L77.8,501.1 L80.1,500.3 L82.4,499.3 L84.4,501.3 L86.5,501.4 L88.5,502.1 L90.6,503.3 L92.6,503.9 L94.7,505.9 L96.7,507.0 L98.8,507.1 L100.8,509.2 L103.2,509.4 L105.5,510.2 L107.5,510.3 L109.6,508.1 L111.6,508.4 L114.2,508.1 L116.7,508.8 L119.3,508.9 L121.3,509.5 L123.3,509.3 L125.2,509.4 L127.2,511.1 L129.2,510.4 L131.2,512.5 L133.3,512.9 L135.3,515.4 L136.9,513.7 L138.4,511.9 L140.6,512.1 L142.7,511.9 L144.9,512.3 L147.0,511.5 L149.2,512.3 L151.5,513.3 L153.8,512.8 L156.1,514.5 L157.6,512.9 L159.2,510.7 L161.3,509.8 L163.4,509.2 L165.5,508.3 L167.6,508.5 L169.8,507.4 L171.9,506.6 L174.1,506.6 L176.2,507.4 L178.4,507.7 L180.4,505.6 L182.5,504.4 L184.5,503.2 L186.4,502.6 L188.2,500.8 L190.1,500.5 L191.9,499.5 L193.8,498.7 L195.8,497.7 L197.9,497.4 L199.9,497.5 L201.9,498.3 L204.0,497.5 L204.0,529.2 L184.5,530.0 L169.2,531.5 L153.8,533.8 L127.0,534.2 L108.5,533.1 L93.2,530.8 L77.8,528.5 L62.4,523.1 L46.0,520.8 Z"/></clipPath>
<rect x="47.6" y="460.3" width="154.6" height="110.7" filter="url(#dk)" clip-path="url(#tx107)" opacity="0.35"/>
<clipPath id="tx109"><path d="M46.0,491.8 L48.8,492.2 L51.6,491.7 L53.9,491.9 L56.2,491.8 L58.3,492.3 L60.3,491.8 L62.4,490.8 L64.3,492.7 L66.2,494.2 L68.2,495.8 L70.1,498.3 L72.0,499.4 L73.9,499.3 L75.9,501.2 L77.8,501.1 L80.1,500.3 L82.4,499.3 L84.4,501.3 L86.5,501.4 L88.5,502.1 L90.6,503.3 L92.6,503.9 L94.7,505.9 L96.7,507.0 L98.8,507.1 L100.8,509.2 L103.2,509.4 L105.5,510.2 L107.5,510.3 L109.6,508.1 L111.6,508.4 L114.2,508.1 L116.7,508.8 L119.3,508.9 L121.3,509.5 L123.3,509.3 L125.2,509.4 L127.2,511.1 L129.2,510.4 L131.2,512.5 L133.3,512.9 L135.3,515.4 L136.9,513.7 L138.4,511.9 L140.6,512.1 L142.7,511.9 L144.9,512.3 L147.0,511.5 L149.2,512.3 L151.5,513.3 L153.8,512.8 L156.1,514.5 L157.6,512.9 L159.2,510.7 L161.3,509.8 L163.4,509.2 L165.5,508.3 L167.6,508.5 L169.8,507.4 L171.9,506.6 L174.1,506.6 L176.2,507.4 L178.4,507.7 L180.4,505.6 L182.5,504.4 L184.5,503.2 L186.4,502.6 L188.2,500.8 L190.1,500.5 L191.9,499.5 L193.8,498.7 L195.8,497.7 L197.9,497.4 L199.9,497.5 L201.9,498.3 L204.0,497.5 L204.0,529.2 L184.5,530.0 L169.2,531.5 L153.8,533.8 L127.0,534.2 L108.5,533.1 L93.2,530.8 L77.8,528.5 L62.4,523.1 L46.0,520.8 Z"/></clipPath>
<rect x="47.6" y="460.3" width="154.6" height="110.7" filter="url(#lt)" clip-path="url(#tx109)" opacity="0.55"/>
<path d="M46.0,491.8 L48.8,492.2 L51.6,491.7 L53.9,491.9 L56.2,491.8 L58.3,492.3 L60.3,491.8 L62.4,490.8 L64.3,492.7 L66.2,494.2 L68.2,495.8 L70.1,498.3 L72.0,499.4 L73.9,499.3 L75.9,501.2 L77.8,501.1 L80.1,500.3 L82.4,499.3 L84.4,501.3 L86.5,501.4 L88.5,502.1 L90.6,503.3 L92.6,503.9 L94.7,505.9 L96.7,507.0 L98.8,507.1 L100.8,509.2 L103.2,509.4 L105.5,510.2 L107.5,510.3 L109.6,508.1 L111.6,508.4 L114.2,508.1 L116.7,508.8 L119.3,508.9 L121.3,509.5 L123.3,509.3 L125.2,509.4 L127.2,511.1 L129.2,510.4 L131.2,512.5 L133.3,512.9 L135.3,515.4 L136.9,513.7 L138.4,511.9 L140.6,512.1 L142.7,511.9 L144.9,512.3 L147.0,511.5 L149.2,512.3 L151.5,513.3 L153.8,512.8 L156.1,514.5 L157.6,512.9 L159.2,510.7 L161.3,509.8 L163.4,509.2 L165.5,508.3 L167.6,508.5 L169.8,507.4 L171.9,506.6 L174.1,506.6 L176.2,507.4 L178.4,507.7 L180.4,505.6 L182.5,504.4 L184.5,503.2 L186.4,502.6 L188.2,500.8 L190.1,500.5 L191.9,499.5 L193.8,498.7 L195.8,497.7 L197.9,497.4 L199.9,497.5 L201.9,498.3 L204.0,497.5" fill="none" stroke="#c9708f" stroke-width="0.9"/>
<path d="M46.0,526.9 C51.3,527.8 67.5,530.8 77.8,532.3 C88.1,533.8 99.8,535.3 108.0,536.2 C116.2,537.1 116.7,537.4 127.0,537.5 C137.3,537.6 157.2,537.6 170.0,536.9 C182.8,536.2 198.3,533.7 204.0,533.1 L204,540.8 L170,544.6 L127,546.5 L108,544.6 L77.8,540.8 L46,534.6 Z" fill="#e799b6"/>
<clipPath id="tx113"><path d="M46.0,526.9 L77.8,532.3 L108.0,536.2 L127.0,537.5 L170.0,536.9 L204.0,533.1 L204.0,540.8 L170.0,544.6 L127.0,546.5 L108.0,544.6 L77.8,540.8 L46.0,534.6 Z"/></clipPath>
<rect x="47.6" y="460.3" width="154.6" height="110.7" filter="url(#dk)" clip-path="url(#tx113)" opacity="0.55"/>
<clipPath id="tx115"><path d="M46.0,526.9 L77.8,532.3 L108.0,536.2 L127.0,537.5 L170.0,536.9 L204.0,533.1 L204.0,540.8 L170.0,544.6 L127.0,546.5 L108.0,544.6 L77.8,540.8 L46.0,534.6 Z"/></clipPath>
<rect x="47.6" y="460.3" width="154.6" height="110.7" filter="url(#lt)" clip-path="url(#tx115)" opacity="0.35"/>
<path d="M46.0,530.4 C51.3,531.3 67.5,534.2 77.8,535.8 C88.1,537.3 99.8,538.8 108.0,539.7 C116.2,540.6 116.7,540.9 127.0,541.0 C137.3,541.1 157.2,541.1 170.0,540.4 C182.8,539.7 198.3,537.2 204.0,536.6" fill="none" stroke="#f3d5e0" stroke-width="0.9" opacity="0.9"/>
<path d="M46.0,537.1 C51.3,538.1 67.5,541.6 77.8,543.3 C88.1,545.0 99.8,546.1 108.0,547.1 C116.2,548.1 116.7,549.0 127.0,549.0 C137.3,549.0 157.2,548.1 170.0,547.1 C182.8,546.1 198.3,543.9 204.0,543.3" fill="none" stroke="#e9d3dc" stroke-width="1"/>
<path d="M105,511.8 L106.5,528.8" stroke="#a8285e" stroke-width="1.2"/>
<path d="M136,513 L138.5,526" stroke="#a8285e" stroke-width="1.2"/>
<path d="M158.8,512 L157.5,534" stroke="#a8285e" stroke-width="1.2"/>
<path d="M76,501 L78,510" stroke="#a8285e" stroke-width="1.2"/>
<circle cx="61" cy="517" r="1.4" fill="#b0507a" opacity="0.7"/>
<circle cx="114" cy="521" r="1.4" fill="#b0507a" opacity="0.7"/>
<circle cx="126" cy="525" r="1.4" fill="#b0507a" opacity="0.7"/>
<circle cx="119" cy="527" r="1.4" fill="#b0507a" opacity="0.7"/>
</g>
<g clip-path="url(#c11)">
<rect x="208.0" y="460.3" width="154.3" height="110.7" fill="#fdfcfd"/>
<ellipse cx="362.3" cy="460.3" rx="14" ry="12" fill="url(#bluec)"/>
<path d="M206.0,508.6 L208.4,505.9 L210.8,504.8 L213.3,506.1 L215.7,503.4 L217.9,502.6 L220.1,503.1 L222.3,501.7 L224.5,502.3 L226.7,499.7 L228.8,500.3 L231.0,497.8 L233.2,497.3 L235.4,497.4 L237.6,496.2 L239.7,496.1 L241.9,495.0 L244.1,492.6 L246.3,493.6 L248.5,492.1 L250.7,490.6 L252.4,488.9 L254.2,489.0 L255.9,487.0 L257.7,486.4 L259.4,484.6 L262.3,484.7 L265.2,483.5 L268.1,483.5 L270.3,482.9 L272.5,481.7 L274.7,482.8 L276.9,481.0 L279.4,482.0 L281.9,482.4 L284.5,481.7 L287.0,480.6 L289.2,482.2 L291.5,482.0 L293.8,481.1 L296.0,480.9 L298.2,482.1 L300.5,481.2 L303.0,483.0 L305.5,482.0 L308.0,481.9 L310.4,481.5 L312.9,482.0 L315.4,482.4 L317.9,481.0 L320.5,480.7 L323.2,480.7 L325.4,481.6 L327.5,483.8 L329.7,485.2 L331.9,486.5 L334.8,486.7 L337.7,486.1 L340.6,484.8 L343.1,487.0 L345.5,485.7 L348.0,486.1 L350.4,486.2 L352.9,487.5 L355.1,487.8 L357.3,487.0 L359.6,486.9 L361.8,486.4 L364.0,487.5 L364.0,528.5 L335.4,527.6 L317.9,526.8 L287.0,528.5 L276.9,530.3 L259.4,534.6 L241.9,538.1 L224.5,543.4 L215.7,548.6 L206.0,552.1 Z" fill="#efb3c8"/>
<clipPath id="tx132"><path d="M206.0,508.6 L208.4,505.9 L210.8,504.8 L213.3,506.1 L215.7,503.4 L217.9,502.6 L220.1,503.1 L222.3,501.7 L224.5,502.3 L226.7,499.7 L228.8,500.3 L231.0,497.8 L233.2,497.3 L235.4,497.4 L237.6,496.2 L239.7,496.1 L241.9,495.0 L244.1,492.6 L246.3,493.6 L248.5,492.1 L250.7,490.6 L252.4,488.9 L254.2,489.0 L255.9,487.0 L257.7,486.4 L259.4,484.6 L262.3,484.7 L265.2,483.5 L268.1,483.5 L270.3,482.9 L272.5,481.7 L274.7,482.8 L276.9,481.0 L279.4,482.0 L281.9,482.4 L284.5,481.7 L287.0,480.6 L289.2,482.2 L291.5,482.0 L293.8,481.1 L296.0,480.9 L298.2,482.1 L300.5,481.2 L303.0,483.0 L305.5,482.0 L308.0,481.9 L310.4,481.5 L312.9,482.0 L315.4,482.4 L317.9,481.0 L320.5,480.7 L323.2,480.7 L325.4,481.6 L327.5,483.8 L329.7,485.2 L331.9,486.5 L334.8,486.7 L337.7,486.1 L340.6,484.8 L343.1,487.0 L345.5,485.7 L348.0,486.1 L350.4,486.2 L352.9,487.5 L355.1,487.8 L357.3,487.0 L359.6,486.9 L361.8,486.4 L364.0,487.5 L364.0,528.5 L335.4,527.6 L317.9,526.8 L287.0,528.5 L276.9,530.3 L259.4,534.6 L241.9,538.1 L224.5,543.4 L215.7,548.6 L206.0,552.1 Z"/></clipPath>
<rect x="208.0" y="460.3" width="154.3" height="110.7" filter="url(#dk)" clip-path="url(#tx132)" opacity="0.4"/>
<clipPath id="tx134"><path d="M206.0,508.6 L208.4,505.9 L210.8,504.8 L213.3,506.1 L215.7,503.4 L217.9,502.6 L220.1,503.1 L222.3,501.7 L224.5,502.3 L226.7,499.7 L228.8,500.3 L231.0,497.8 L233.2,497.3 L235.4,497.4 L237.6,496.2 L239.7,496.1 L241.9,495.0 L244.1,492.6 L246.3,493.6 L248.5,492.1 L250.7,490.6 L252.4,488.9 L254.2,489.0 L255.9,487.0 L257.7,486.4 L259.4,484.6 L262.3,484.7 L265.2,483.5 L268.1,483.5 L270.3,482.9 L272.5,481.7 L274.7,482.8 L276.9,481.0 L279.4,482.0 L281.9,482.4 L284.5,481.7 L287.0,480.6 L289.2,482.2 L291.5,482.0 L293.8,481.1 L296.0,480.9 L298.2,482.1 L300.5,481.2 L303.0,483.0 L305.5,482.0 L308.0,481.9 L310.4,481.5 L312.9,482.0 L315.4,482.4 L317.9,481.0 L320.5,480.7 L323.2,480.7 L325.4,481.6 L327.5,483.8 L329.7,485.2 L331.9,486.5 L334.8,486.7 L337.7,486.1 L340.6,484.8 L343.1,487.0 L345.5,485.7 L348.0,486.1 L350.4,486.2 L352.9,487.5 L355.1,487.8 L357.3,487.0 L359.6,486.9 L361.8,486.4 L364.0,487.5 L364.0,528.5 L335.4,527.6 L317.9,526.8 L287.0,528.5 L276.9,530.3 L259.4,534.6 L241.9,538.1 L224.5,543.4 L215.7,548.6 L206.0,552.1 Z"/></clipPath>
<rect x="208.0" y="460.3" width="154.3" height="110.7" filter="url(#lt)" clip-path="url(#tx134)" opacity="0.5"/>
<path d="M206.0,522.0 L224.5,519.0 L241.9,516.0 L259.4,513.0 L276.9,511.0 L300.0,510.0 L330.0,511.0 L364.0,512.0 L364.0,528.5 L335.4,527.6 L317.9,526.8 L287.0,528.5 L276.9,530.3 L259.4,534.6 L241.9,538.1 L224.5,543.4 L215.7,548.6 L206.0,552.1 Z" fill="#e690b2" opacity="0.6"/>
<clipPath id="tx137"><path d="M206.0,522.0 L224.5,519.0 L241.9,516.0 L259.4,513.0 L276.9,511.0 L300.0,510.0 L330.0,511.0 L364.0,512.0 L364.0,528.5 L335.4,527.6 L317.9,526.8 L287.0,528.5 L276.9,530.3 L259.4,534.6 L241.9,538.1 L224.5,543.4 L215.7,548.6 L206.0,552.1 Z"/></clipPath>
<rect x="208.0" y="460.3" width="154.3" height="110.7" filter="url(#dk)" clip-path="url(#tx137)" opacity="0.5"/>
<path d="M312.8,520.9 L332.0,521.3" stroke="#cc3c74" stroke-width="1.4" opacity="0.75"/>
<path d="M338.8,523.2 L347.2,523.5" stroke="#cc3c74" stroke-width="1.0" opacity="0.75"/>
<path d="M299.5,526.1 L320.1,525.2" stroke="#cc3c74" stroke-width="0.8" opacity="0.75"/>
<path d="M241.5,527.1 L257.1,524.0" stroke="#cc3c74" stroke-width="1.1" opacity="0.75"/>
<path d="M237.2,519.3 L249.1,516.5" stroke="#cc3c74" stroke-width="1.3" opacity="0.75"/>
<path d="M229.0,536.1 L248.1,530.9" stroke="#cc3c74" stroke-width="0.8" opacity="0.75"/>
<path d="M224.2,534.4 L232.3,531.8" stroke="#cc3c74" stroke-width="1.3" opacity="0.75"/>
<path d="M237.0,523.2 L258.8,518.3" stroke="#cc3c74" stroke-width="1.3" opacity="0.75"/>
<path d="M344.5,517.1 L360.0,517.6" stroke="#cc3c74" stroke-width="1.2" opacity="0.75"/>
<path d="M341.5,515.8 L359.2,516.4" stroke="#cc3c74" stroke-width="1.4" opacity="0.75"/>
<path d="M249.0,533.6 L262.1,530.9" stroke="#cc3c74" stroke-width="0.8" opacity="0.75"/>
<path d="M215.4,526.8 L227.6,520.5" stroke="#cc3c74" stroke-width="1.1" opacity="0.75"/>
<path d="M303.6,511.9 L316.4,511.2" stroke="#cc3c74" stroke-width="0.9" opacity="0.75"/>
<path d="M275.2,526.7 L287.6,524.5" stroke="#cc3c74" stroke-width="1.0" opacity="0.75"/>
<path d="M214.2,540.6 L235.9,531.4" stroke="#cc3c74" stroke-width="0.7" opacity="0.75"/>
<path d="M327.7,523.0 L335.9,523.3" stroke="#cc3c74" stroke-width="1.3" opacity="0.75"/>
<path d="M289.3,517.8 L297.4,517.4" stroke="#cc3c74" stroke-width="0.7" opacity="0.75"/>
<path d="M343.5,515.6 L354.3,515.9" stroke="#cc3c74" stroke-width="1.2" opacity="0.75"/>
<path d="M341.7,526.0 L354.5,526.4" stroke="#cc3c74" stroke-width="0.9" opacity="0.75"/>
<path d="M317.7,519.4 L327.2,519.9" stroke="#cc3c74" stroke-width="1.2" opacity="0.75"/>
<path d="M329.8,523.7 L338.3,524.1" stroke="#cc3c74" stroke-width="1.4" opacity="0.75"/>
<path d="M255.1,517.6 L271.6,513.7" stroke="#cc3c74" stroke-width="1.3" opacity="0.75"/>
<path d="M339.1,517.7 L354.7,518.2" stroke="#cc3c74" stroke-width="0.9" opacity="0.75"/>
<path d="M231.6,526.4 L240.7,523.7" stroke="#cc3c74" stroke-width="0.8" opacity="0.75"/>
<path d="M349.5,522.9 L359.8,523.2" stroke="#cc3c74" stroke-width="0.7" opacity="0.75"/>
<path d="M282.8,528.1 L296.5,526.8" stroke="#cc3c74" stroke-width="0.9" opacity="0.75"/>
<path d="M206.0,546.0 C207.6,545.5 212.6,544.2 215.7,543.0 C218.8,541.8 220.1,540.1 224.5,538.5 C228.9,536.9 236.1,534.9 241.9,533.5 C247.7,532.1 253.6,531.2 259.4,530.0 C265.2,528.8 271.8,527.3 276.9,526.5 C282.0,525.7 287.8,525.2 290.0,525.0" fill="none" stroke="#d2487f" stroke-width="2.2" opacity="0.7"/>
<path d="M206.0,508.6 L208.4,505.9 L210.8,504.8 L213.3,506.1 L215.7,503.4 L217.9,502.6 L220.1,503.1 L222.3,501.7 L224.5,502.3 L226.7,499.7 L228.8,500.3 L231.0,497.8 L233.2,497.3 L235.4,497.4 L237.6,496.2 L239.7,496.1 L241.9,495.0 L244.1,492.6 L246.3,493.6 L248.5,492.1 L250.7,490.6 L252.4,488.9 L254.2,489.0 L255.9,487.0 L257.7,486.4 L259.4,484.6 L262.3,484.7 L265.2,483.5 L268.1,483.5 L270.3,482.9 L272.5,481.7 L274.7,482.8 L276.9,481.0 L279.4,482.0 L281.9,482.4 L284.5,481.7 L287.0,480.6 L289.2,482.2 L291.5,482.0 L293.8,481.1 L296.0,480.9 L298.2,482.1 L300.5,481.2 L303.0,483.0 L305.5,482.0 L308.0,481.9 L310.4,481.5 L312.9,482.0 L315.4,482.4 L317.9,481.0 L320.5,480.7 L323.2,480.7 L325.4,481.6 L327.5,483.8 L329.7,485.2 L331.9,486.5 L334.8,486.7 L337.7,486.1 L340.6,484.8 L343.1,487.0 L345.5,485.7 L348.0,486.1 L350.4,486.2 L352.9,487.5 L355.1,487.8 L357.3,487.0 L359.6,486.9 L361.8,486.4 L364.0,487.5" fill="none" stroke="#c97596" stroke-width="0.8"/>
<path d="M233,505 Q233.5,516.0 231,527" stroke="#a12a5c" stroke-width="1.1" fill="none"/>
<path d="M266,493 Q266.5,504.5 264,516" stroke="#a12a5c" stroke-width="1.1" fill="none"/>
<path d="M290,490 Q290.0,502.0 287,514" stroke="#a12a5c" stroke-width="1.1" fill="none"/>
<path d="M338,494 Q338.5,503.0 336,512" stroke="#a12a5c" stroke-width="1.1" fill="none"/>
<path d="M355,494 Q355.0,504.5 352,515" stroke="#a12a5c" stroke-width="1.1" fill="none"/>
<ellipse cx="222" cy="509" rx="8" ry="4" fill="#d9cad8" opacity="0.65" filter="url(#bl1)"/>
<ellipse cx="246" cy="503" rx="8" ry="4" fill="#d9cad8" opacity="0.65" filter="url(#bl1)"/>
<ellipse cx="276" cy="498" rx="7" ry="4" fill="#d9cad8" opacity="0.65" filter="url(#bl1)"/>
<ellipse cx="304" cy="496" rx="6" ry="3" fill="#d9cad8" opacity="0.65" filter="url(#bl1)"/>
<ellipse cx="318" cy="499" rx="7" ry="4" fill="#d9cad8" opacity="0.65" filter="url(#bl1)"/>
<ellipse cx="336" cy="501" rx="5" ry="3" fill="#d9cad8" opacity="0.65" filter="url(#bl1)"/>
<ellipse cx="348" cy="497" rx="5" ry="3" fill="#d9cad8" opacity="0.65" filter="url(#bl1)"/>
<path d="M330.0,552.0 C331.3,550.8 335.2,547.0 338.0,545.0 C340.8,543.0 344.2,541.3 347.0,540.0 C349.8,538.7 352.2,537.8 355.0,537.0 C357.8,536.2 362.5,529.7 364.0,535.0 C365.5,540.3 365.3,564.3 364.0,569.0 C362.7,573.7 359.0,564.5 356.0,563.0 C353.0,561.5 349.3,560.8 346.0,560.0 C342.7,559.2 337.7,558.3 336.0,558.0 Z" fill="#f7e3eb" opacity="0.9"/>
<clipPath id="tx180"><path d="M330.0,552.0 L338.0,545.0 L347.0,540.0 L355.0,537.0 L364.0,535.0 L364.0,569.0 L356.0,563.0 L346.0,560.0 L336.0,558.0 Z"/></clipPath>
<rect x="208.0" y="460.3" width="154.3" height="110.7" filter="url(#sp)" clip-path="url(#tx180)" opacity="0.9"/>
<clipPath id="tx182"><path d="M330.0,552.0 L338.0,545.0 L347.0,540.0 L355.0,537.0 L364.0,535.0 L364.0,569.0 L356.0,563.0 L346.0,560.0 L336.0,558.0 Z"/></clipPath>
<rect x="208.0" y="460.3" width="154.3" height="110.7" filter="url(#dk)" clip-path="url(#tx182)" opacity="0.3"/>
<circle cx="349" cy="541.5" r="1.6" fill="#b8406e" opacity="0.7"/>
<circle cx="355" cy="543" r="1.4" fill="#b8406e" opacity="0.7"/>
<circle cx="352" cy="548" r="1.8" fill="#b8406e" opacity="0.7"/>
<circle cx="357" cy="552" r="1.5" fill="#b8406e" opacity="0.7"/>
<circle cx="344" cy="547" r="1.2" fill="#b8406e" opacity="0.7"/>
<circle cx="359" cy="559" r="1.3" fill="#b8406e" opacity="0.7"/>
<clipPath id="tx190"><path d="M206,552 L260,535 L364,529 L364,540 L300,540 L206,560 Z"/></clipPath>
<rect x="208.0" y="460.3" width="154.3" height="110.7" filter="url(#sp)" clip-path="url(#tx190)" opacity="0.18"/>
</g>
<g clip-path="url(#c12)">
<rect x="364.6" y="460.3" width="154.7" height="110.7" fill="#fdfcfd"/>
<path d="M363.0,467.6 L365.2,468.7 L367.4,469.5 L369.5,468.9 L371.7,470.9 L373.7,471.5 L375.6,472.7 L377.6,472.9 L379.5,474.6 L381.5,476.7 L383.4,477.8 L384.7,480.2 L385.9,481.3 L387.2,483.4 L390.1,484.1 L393.0,483.0 L395.4,483.0 L397.9,483.2 L400.4,482.2 L402.8,481.4 L404.7,483.6 L406.6,483.9 L408.6,484.8 L410.5,485.4 L412.4,485.2 L414.4,483.0 L416.4,482.8 L418.3,481.0 L420.9,480.8 L423.4,480.4 L426.0,479.0 L428.4,478.8 L430.9,479.8 L433.3,480.5 L435.7,480.5 L437.9,481.6 L440.0,483.5 L442.4,482.3 L444.9,482.1 L447.3,482.2 L449.7,482.9 L451.6,482.7 L453.6,483.4 L455.5,484.4 L457.5,485.2 L459.4,486.7 L461.8,487.2 L464.2,487.7 L466.7,486.8 L469.1,486.8 L471.0,487.7 L472.9,488.7 L474.9,490.6 L476.8,491.1 L478.7,491.5 L480.6,490.6 L482.6,491.4 L484.5,490.7 L486.5,490.3 L488.4,488.6 L490.8,489.7 L493.2,490.9 L495.7,490.7 L498.1,491.9 L500.0,491.1 L502.0,493.5 L503.9,492.5 L505.9,494.0 L507.8,493.9 L509.8,496.5 L511.7,497.2 L513.6,498.8 L515.6,499.4 L518.3,500.6 L521.0,500.7 L521.0,529.7 L507.8,522.0 L498.1,516.2 L478.7,513.3 L459.4,512.3 L442.0,511.0 L422.1,508.4 L402.8,507.5 L383.4,508.4 L363.0,505.5 Z" fill="#eca5be"/>
<clipPath id="tx196"><path d="M363.0,467.6 L365.2,468.7 L367.4,469.5 L369.5,468.9 L371.7,470.9 L373.7,471.5 L375.6,472.7 L377.6,472.9 L379.5,474.6 L381.5,476.7 L383.4,477.8 L384.7,480.2 L385.9,481.3 L387.2,483.4 L390.1,484.1 L393.0,483.0 L395.4,483.0 L397.9,483.2 L400.4,482.2 L402.8,481.4 L404.7,483.6 L406.6,483.9 L408.6,484.8 L410.5,485.4 L412.4,485.2 L414.4,483.0 L416.4,482.8 L418.3,481.0 L420.9,480.8 L423.4,480.4 L426.0,479.0 L428.4,478.8 L430.9,479.8 L433.3,480.5 L435.7,480.5 L437.9,481.6 L440.0,483.5 L442.4,482.3 L444.9,482.1 L447.3,482.2 L449.7,482.9 L451.6,482.7 L453.6,483.4 L455.5,484.4 L457.5,485.2 L459.4,486.7 L461.8,487.2 L464.2,487.7 L466.7,486.8 L469.1,486.8 L471.0,487.7 L472.9,488.7 L474.9,490.6 L476.8,491.1 L478.7,491.5 L480.6,490.6 L482.6,491.4 L484.5,490.7 L486.5,490.3 L488.4,488.6 L490.8,489.7 L493.2,490.9 L495.7,490.7 L498.1,491.9 L500.0,491.1 L502.0,493.5 L503.9,492.5 L505.9,494.0 L507.8,493.9 L509.8,496.5 L511.7,497.2 L513.6,498.8 L515.6,499.4 L518.3,500.6 L521.0,500.7 L521.0,529.7 L507.8,522.0 L498.1,516.2 L478.7,513.3 L459.4,512.3 L442.0,511.0 L422.1,508.4 L402.8,507.5 L383.4,508.4 L363.0,505.5 Z"/></clipPath>
<rect x="364.6" y="460.3" width="154.7" height="110.7" filter="url(#dk)" clip-path="url(#tx196)" opacity="0.45"/>
<clipPath id="tx198"><path d="M363.0,467.6 L365.2,468.7 L367.4,469.5 L369.5,468.9 L371.7,470.9 L373.7,471.5 L375.6,472.7 L377.6,472.9 L379.5,474.6 L381.5,476.7 L383.4,477.8 L384.7,480.2 L385.9,481.3 L387.2,483.4 L390.1,484.1 L393.0,483.0 L395.4,483.0 L397.9,483.2 L400.4,482.2 L402.8,481.4 L404.7,483.6 L406.6,483.9 L408.6,484.8 L410.5,485.4 L412.4,485.2 L414.4,483.0 L416.4,482.8 L418.3,481.0 L420.9,480.8 L423.4,480.4 L426.0,479.0 L428.4,478.8 L430.9,479.8 L433.3,480.5 L435.7,480.5 L437.9,481.6 L440.0,483.5 L442.4,482.3 L444.9,482.1 L447.3,482.2 L449.7,482.9 L451.6,482.7 L453.6,483.4 L455.5,484.4 L457.5,485.2 L459.4,486.7 L461.8,487.2 L464.2,487.7 L466.7,486.8 L469.1,486.8 L471.0,487.7 L472.9,488.7 L474.9,490.6 L476.8,491.1 L478.7,491.5 L480.6,490.6 L482.6,491.4 L484.5,490.7 L486.5,490.3 L488.4,488.6 L490.8,489.7 L493.2,490.9 L495.7,490.7 L498.1,491.9 L500.0,491.1 L502.0,493.5 L503.9,492.5 L505.9,494.0 L507.8,493.9 L509.8,496.5 L511.7,497.2 L513.6,498.8 L515.6,499.4 L518.3,500.6 L521.0,500.7 L521.0,529.7 L507.8,522.0 L498.1,516.2 L478.7,513.3 L459.4,512.3 L442.0,511.0 L422.1,508.4 L402.8,507.5 L383.4,508.4 L363.0,505.5 Z"/></clipPath>
<rect x="364.6" y="460.3" width="154.7" height="110.7" filter="url(#lt)" clip-path="url(#tx198)" opacity="0.4"/>
<path d="M363.0,467.6 L365.2,468.7 L367.4,469.5 L369.5,468.9 L371.7,470.9 L373.7,471.5 L375.6,472.7 L377.6,472.9 L379.5,474.6 L381.5,476.7 L383.4,477.8 L384.7,480.2 L385.9,481.3 L387.2,483.4 L390.1,484.1 L393.0,483.0 L395.4,483.0 L397.9,483.2 L400.4,482.2 L402.8,481.4 L404.7,483.6 L406.6,483.9 L408.6,484.8 L410.5,485.4 L412.4,485.2 L414.4,483.0 L416.4,482.8 L418.3,481.0 L420.9,480.8 L423.4,480.4 L426.0,479.0 L428.4,478.8 L430.9,479.8 L433.3,480.5 L435.7,480.5 L437.9,481.6 L440.0,483.5 L442.4,482.3 L444.9,482.1 L447.3,482.2 L449.7,482.9 L451.6,482.7 L453.6,483.4 L455.5,484.4 L457.5,485.2 L459.4,486.7 L461.8,487.2 L464.2,487.7 L466.7,486.8 L469.1,486.8 L471.0,487.7 L472.9,488.7 L474.9,490.6 L476.8,491.1 L478.7,491.5 L480.6,490.6 L482.6,491.4 L484.5,490.7 L486.5,490.3 L488.4,488.6 L490.8,489.7 L493.2,490.9 L495.7,490.7 L498.1,491.9 L500.0,491.1 L502.0,493.5 L503.9,492.5 L505.9,494.0 L507.8,493.9 L509.8,496.5 L511.7,497.2 L513.6,498.8 L515.6,499.4 L518.3,500.6 L521.0,500.7" fill="none" stroke="#d3809f" stroke-width="1"/>
<path d="M363.0,505.5 L383.4,508.4 L402.8,507.5 L422.1,508.4 L442.0,511.0 L459.4,512.3 L478.7,513.3 L498.1,516.2 L507.8,522.0 L521.0,529.7 L521.0,555.0 L507.8,551.0 L498.1,546.0 L478.7,541.0 L459.4,533.0 L442.0,526.5 L422.1,522.0 L402.8,518.1 L383.4,516.2 L363.0,514.2 Z" fill="#f8f2f5"/>
<clipPath id="tx202"><path d="M363.0,505.5 L383.4,508.4 L402.8,507.5 L422.1,508.4 L442.0,511.0 L459.4,512.3 L478.7,513.3 L498.1,516.2 L507.8,522.0 L521.0,529.7 L521.0,555.0 L507.8,551.0 L498.1,546.0 L478.7,541.0 L459.4,533.0 L442.0,526.5 L422.1,522.0 L402.8,518.1 L383.4,516.2 L363.0,514.2 Z"/></clipPath>
<rect x="364.6" y="460.3" width="154.7" height="110.7" filter="url(#lv)" clip-path="url(#tx202)" opacity="0.4"/>
<clipPath id="tx204"><path d="M363.0,505.5 L383.4,508.4 L402.8,507.5 L422.1,508.4 L442.0,511.0 L459.4,512.3 L478.7,513.3 L498.1,516.2 L507.8,522.0 L521.0,529.7 L521.0,555.0 L507.8,551.0 L498.1,546.0 L478.7,541.0 L459.4,533.0 L442.0,526.5 L422.1,522.0 L402.8,518.1 L383.4,516.2 L363.0,514.2 Z"/></clipPath>
<rect x="364.6" y="460.3" width="154.7" height="110.7" filter="url(#sp)" clip-path="url(#tx204)" opacity="0.35"/>
<path d="M507,500 Q515,510 521,530 L521,545 Q514,525 503,512 Z" fill="#e9a0bb" opacity="0.8"/>
<path d="M363.0,514.2 L383.4,516.2 L402.8,518.1 L422.1,522.0 L442.0,526.5 L459.4,533.0 L478.7,541.0 L498.1,546.0 L507.8,551.0 L521.0,555.0 L521.0,572.0 L510.0,565.0 L498.1,558.0 L478.7,551.0 L459.4,546.0 L442.0,541.0 L422.1,536.5 L402.8,534.6 L383.4,532.7 L363.0,531.7 Z" fill="#e8a0b9"/>
<clipPath id="tx208"><path d="M363.0,514.2 L383.4,516.2 L402.8,518.1 L422.1,522.0 L442.0,526.5 L459.4,533.0 L478.7,541.0 L498.1,546.0 L507.8,551.0 L521.0,555.0 L521.0,572.0 L510.0,565.0 L498.1,558.0 L478.7,551.0 L459.4,546.0 L442.0,541.0 L422.1,536.5 L402.8,534.6 L383.4,532.7 L363.0,531.7 Z"/></clipPath>
<rect x="364.6" y="460.3" width="154.7" height="110.7" filter="url(#dk)" clip-path="url(#tx208)" opacity="0.35"/>
<path d="M363.0,518.2 C366.4,518.6 376.8,519.7 383.4,520.4 C390.0,521.1 396.4,521.4 402.8,522.4 C409.2,523.4 415.6,525.0 422.1,526.5 C428.6,527.9 435.8,529.2 442.0,531.1 C448.2,533.0 453.3,535.3 459.4,537.8 C465.5,540.2 472.2,543.7 478.7,545.9 C485.1,548.1 493.2,549.4 498.1,551.1 C503.0,552.8 504.0,554.6 507.8,556.2 C511.6,557.7 518.8,559.6 521.0,560.3" fill="none" stroke="#f6dde6" stroke-width="0.9" opacity="0.9"/>
<path d="M363.0,523.2 C366.4,523.6 376.8,524.8 383.4,525.6 C390.0,526.3 396.4,526.7 402.8,527.8 C409.2,528.9 415.6,530.5 422.1,532.1 C428.6,533.6 435.8,535.0 442.0,536.9 C448.2,538.9 453.3,541.2 459.4,543.7 C465.5,546.3 472.2,549.8 478.7,552.1 C485.1,554.4 493.2,555.7 498.1,557.4 C503.0,559.2 504.0,561.0 507.8,562.6 C511.6,564.2 518.8,566.1 521.0,566.8" fill="none" stroke="#f6dde6" stroke-width="0.9" opacity="0.9"/>
<path d="M363.0,528.2 C366.4,528.6 376.8,529.9 383.4,530.8 C390.0,531.6 396.4,532.1 402.8,533.2 C409.2,534.4 415.6,536.1 422.1,537.7 C428.6,539.2 435.8,540.7 442.0,542.7 C448.2,544.7 453.3,547.1 459.4,549.7 C465.5,552.3 472.2,555.9 478.7,558.2 C485.1,560.6 493.2,562.0 498.1,563.8 C503.0,565.6 504.0,567.4 507.8,569.1 C511.6,570.7 518.8,572.7 521.0,573.4" fill="none" stroke="#f6dde6" stroke-width="0.9" opacity="0.9"/>
<ellipse cx="375" cy="497" rx="5" ry="3" fill="#d4bfd3" opacity="0.35" filter="url(#bl1)"/>
<ellipse cx="395" cy="495" rx="5" ry="3" fill="#d4bfd3" opacity="0.35" filter="url(#bl1)"/>
<ellipse cx="420" cy="497" rx="6" ry="3" fill="#d4bfd3" opacity="0.35" filter="url(#bl1)"/>
<ellipse cx="455" cy="500" rx="7" ry="3" fill="#d4bfd3" opacity="0.35" filter="url(#bl1)"/>
<ellipse cx="480" cy="503" rx="6" ry="3" fill="#d4bfd3" opacity="0.35" filter="url(#bl1)"/>
<path d="M390,495 L392,502 M410,494 L412,501" stroke="#fff" stroke-width="1.5" opacity="0.8"/>
</g>
<rect x="47.6" y="345.7" width="154.6" height="111.1" fill="none" stroke="#2a2a2a" stroke-width="1.4"/>
<rect x="208.0" y="345.7" width="154.3" height="111.1" fill="none" stroke="#2a2a2a" stroke-width="1.4"/>
<rect x="364.6" y="345.7" width="154.7" height="111.1" fill="none" stroke="#2a2a2a" stroke-width="1.4"/>
<rect x="47.6" y="460.3" width="154.6" height="110.7" fill="none" stroke="#2a2a2a" stroke-width="1.4"/>
<rect x="208.0" y="460.3" width="154.3" height="110.7" fill="none" stroke="#2a2a2a" stroke-width="1.4"/>
<rect x="364.6" y="460.3" width="154.7" height="110.7" fill="none" stroke="#2a2a2a" stroke-width="1.4"/>
</svg></body></html>
